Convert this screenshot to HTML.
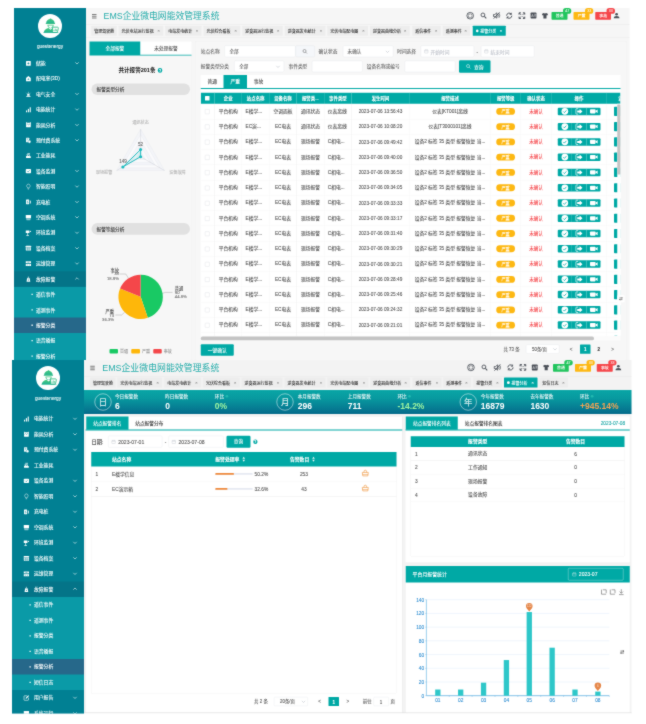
<!DOCTYPE html>
<html lang="zh-CN">
<head>
<meta charset="utf-8">
<title>EMS企业微电网能效管理系统</title>
<style>
html,body{margin:0;padding:0;background:#fff}
body{width:646px;height:724px;overflow:hidden;position:relative;font-family:"Liberation Sans","Noto Sans CJK SC",sans-serif}
#o{position:absolute;left:0;top:0;width:646px;height:724px;overflow:hidden;background:#fff;filter:url(#soft);}
#r{position:absolute;left:0;top:0;width:2584px;height:2896px;transform:scale(.25);transform-origin:0 0;overflow:hidden}
.b{position:absolute;margin:0;padding:0}
.t{position:absolute;white-space:nowrap;margin:0;padding:0;-webkit-text-stroke:.35px;font-family:"Liberation Sans","Noto Sans CJK SC",sans-serif}
.en{font-family:"Liberation Sans",sans-serif}
svg{overflow:visible}
</style>
</head>
<body>
<svg width="0" height="0" style="position:absolute" aria-hidden="true"><defs><filter id="soft" x="0" y="0" width="100%" height="100%" color-interpolation-filters="sRGB"><feConvolveMatrix order="3" kernelMatrix="1 3 1 3 24 3 1 3 1" edgeMode="duplicate" preserveAlpha="true"/></filter></defs></svg>
<div id="o"><div id="r">
<div class="b" style="left:0;top:0;width:2584px;height:1439.6px;overflow:hidden">
<div class="b" style="left:343.6px;top:32px;width:2174.8px;height:1407.6px;background:#f6f6f6;"></div>
<div class="b" style="left:56.4px;top:32px;width:287.2px;height:1407.6px;background:#018093;overflow:hidden;"></div>
<div class="b" style="left:56.4px;top:1146.98px;width:287.2px;height:369.84px;background:#0a9aa7;"></div>
<div class="b" style="left:56.4px;top:1085.34px;width:287.2px;height:61.64px;background:#047488;"></div>
<div class="b" style="left:56.4px;top:1270.26px;width:287.2px;height:61.64px;background:#26688a;"></div>
<div class="b" style="left:152px;top:56px;width:96px;height:96px;background:#fff;border-radius:50%;"></div>
<svg class="b" preserveAspectRatio="none" style="left:165.2px;top:62.8px;width:74.4px;height:76px" viewBox="0 0 24 24"><defs><linearGradient id="ag26" x1="0" y1="0" x2="0" y2="1"><stop offset="0" stop-color="#4ccb7c"/><stop offset="1" stop-color="#22b392"/></linearGradient></defs><g fill="url(#ag26)" stroke="none"><path d="M6.300 9.400a5.500 5.200 0 0 1 11 0z"/><rect x="5.700" y="9.100" width="12.200" height="1.400" rx=".7"/><rect x="11" y="3.4" width="2" height="2.6" rx=".5"/><path d="M8 11.4h8a4 4.4 0 0 1-8 0zm1.1.9a2.9 3.1 0 0 0 5.8 0z" fill-rule="evenodd"/><path d="M3.2 21.2c.5-3.4 3.2-5.2 6.2-5.700l2.600 2.300 2.600-2.300c1.400.3 2.500.8 3.400 1.600v4.100z"/></g><path d="M14.6 14.4h6.300c.9 0 1.300.600 1.100 1.500l-.8 3.700c-.2.900-.9 1.500-1.800 1.500h-4.800z" fill="#fff" stroke="#2fbd82" stroke-width="1.100"/><path d="M16.400 19.400v-1.600M18.100 19.400v-3M19.800 19.400v-2.200" stroke="#2fbd82" stroke-width=".9" fill="none"/><rect x="3" y="20.600" width="19" height="1" fill="#22b392"/></svg>
<div class="t en" style="top:172.46px;font-size:19px;line-height:26.6px;color:#e9f5f6;left:200px;transform:translateX(-50%);">guestenergy</div>
<svg class="b" style="left:100.6px;top:240.6px;width:25.2px;height:25.2px;" viewBox="0 0 24 24"><rect x="3" y="3" width="18" height="18" rx="2" fill="#fff"/><path d="M12 8v8M8 12h8" stroke="#018093" stroke-width="2.6"/></svg>
<div class="t" style="top:239.54px;font-size:19.4px;line-height:27.16px;color:#fff;left:143.6px;">储能</div>
<svg class="b" style="left:300.4px;top:244px;width:16px;height:16px;" viewBox="0 0 24 24"><path d="M2 8l10 10 10-10" fill="none" stroke="#f2fafa" stroke-width="3.600"/></svg>
<svg class="b" style="left:100.6px;top:302.24px;width:25.2px;height:25.2px;" viewBox="0 0 24 24"><path d="M12 2 3 10v12h18V10z" fill="#fff"/><path d="M12 10v7M9 14l3 3 3-3" stroke="#018093" stroke-width="2" fill="none"/></svg>
<div class="t" style="top:299.54px;font-size:19.4px;line-height:27.16px;color:#fff;left:143.6px;">配电室(3D)</div>
<svg class="b" style="left:100.6px;top:363.88px;width:25.2px;height:25.2px;" viewBox="0 0 24 24"><path d="M7 15a5 5 0 0 1 10 0v3H7z" fill="#fff"/><rect x="4" y="19" width="16" height="3" fill="#fff"/><path d="M12 3v4M4 7l3 3M20 7l-3 3" stroke="#fff" stroke-width="2"/></svg>
<div class="t" style="top:363.54px;font-size:19.4px;line-height:27.16px;color:#fff;left:143.6px;">电气安全</div>
<svg class="b" style="left:300.4px;top:367.28px;width:16px;height:16px;" viewBox="0 0 24 24"><path d="M2 8l10 10 10-10" fill="none" stroke="#f2fafa" stroke-width="3.600"/></svg>
<svg class="b" style="left:100.6px;top:425.52px;width:25.2px;height:25.2px;" viewBox="0 0 24 24"><rect x="3" y="15" width="4" height="7" fill="#fff"/><rect x="10" y="9" width="4" height="13" fill="#fff"/><rect x="17" y="3" width="4" height="19" fill="#fff"/></svg>
<div class="t" style="top:423.54px;font-size:19.4px;line-height:27.16px;color:#fff;left:143.6px;">电能统计</div>
<svg class="b" style="left:300.4px;top:428.92px;width:16px;height:16px;" viewBox="0 0 24 24"><path d="M2 8l10 10 10-10" fill="none" stroke="#f2fafa" stroke-width="3.600"/></svg>
<svg class="b" style="left:100.6px;top:487.16px;width:25.2px;height:25.2px;" viewBox="0 0 24 24"><rect x="3" y="4" width="18" height="17" rx="1.5" fill="#fff"/><path d="M5 12l4-3 4 3 5-4" stroke="#018093" stroke-width="2" fill="none"/><rect x="3" y="2" width="3" height="4" fill="#fff"/><rect x="18" y="2" width="3" height="4" fill="#fff"/></svg>
<div class="t" style="top:487.54px;font-size:19.4px;line-height:27.16px;color:#fff;left:143.6px;">能耗分析</div>
<svg class="b" style="left:300.4px;top:490.56px;width:16px;height:16px;" viewBox="0 0 24 24"><path d="M2 8l10 10 10-10" fill="none" stroke="#f2fafa" stroke-width="3.600"/></svg>
<svg class="b" style="left:100.6px;top:548.8px;width:25.2px;height:25.2px;" viewBox="0 0 24 24"><rect x="3" y="2" width="12" height="17" rx="1.5" fill="#fff"/><circle cx="16" cy="17" r="5.5" fill="#fff" stroke="#018093" stroke-width="1.5"/><path d="M6 6h6M6 10h4" stroke="#018093" stroke-width="1.8"/></svg>
<div class="t" style="top:547.54px;font-size:19.4px;line-height:27.16px;color:#fff;left:143.6px;">预付费系统</div>
<svg class="b" style="left:300.4px;top:552.2px;width:16px;height:16px;" viewBox="0 0 24 24"><path d="M2 8l10 10 10-10" fill="none" stroke="#f2fafa" stroke-width="3.600"/></svg>
<svg class="b" style="left:100.6px;top:610.44px;width:25.2px;height:25.2px;" viewBox="0 0 24 24"><path d="M3 21v-7l7-4v4l7-4v4h4v7z" fill="#fff"/><path d="M5 8h12M8 4h10" stroke="#fff" stroke-width="2.4"/></svg>
<div class="t" style="top:607.54px;font-size:19.4px;line-height:27.16px;color:#fff;left:143.6px;">工业能耗</div>
<svg class="b" style="left:100.6px;top:672.08px;width:25.2px;height:25.2px;" viewBox="0 0 24 24"><rect x="2" y="4" width="20" height="16" rx="3" fill="#fff"/><path d="M7 11l4 4 6-6" stroke="#018093" stroke-width="2.2" fill="none"/></svg>
<div class="t" style="top:671.54px;font-size:19.4px;line-height:27.16px;color:#fff;left:143.6px;">设备监测</div>
<svg class="b" style="left:300.4px;top:675.48px;width:16px;height:16px;" viewBox="0 0 24 24"><path d="M2 8l10 10 10-10" fill="none" stroke="#f2fafa" stroke-width="3.600"/></svg>
<svg class="b" style="left:100.6px;top:733.72px;width:25.2px;height:25.2px;" viewBox="0 0 24 24"><path d="M12 2.5a6.5 6.5 0 0 0-3.5 12v3h7v-3a6.5 6.5 0 0 0-3.5-12z" fill="none" stroke="#fff" stroke-width="1.8"/><path d="M9.5 21h5" stroke="#fff" stroke-width="2"/></svg>
<div class="t" style="top:731.54px;font-size:19.4px;line-height:27.16px;color:#fff;left:143.6px;">智能照明</div>
<svg class="b" style="left:300.4px;top:737.12px;width:16px;height:16px;" viewBox="0 0 24 24"><path d="M2 8l10 10 10-10" fill="none" stroke="#f2fafa" stroke-width="3.600"/></svg>
<svg class="b" style="left:100.6px;top:795.36px;width:25.2px;height:25.2px;" viewBox="0 0 24 24"><rect x="3" y="3" width="12" height="18" rx="1.5" fill="#fff"/><path d="M18 6v12h3V9z" fill="#fff"/><path d="M10 7l-3 6h4l-2 5" stroke="#018093" stroke-width="1.8" fill="none"/></svg>
<div class="t" style="top:795.54px;font-size:19.4px;line-height:27.16px;color:#fff;left:143.6px;">充电桩</div>
<svg class="b" style="left:300.4px;top:798.76px;width:16px;height:16px;" viewBox="0 0 24 24"><path d="M2 8l10 10 10-10" fill="none" stroke="#f2fafa" stroke-width="3.600"/></svg>
<svg class="b" style="left:100.6px;top:857px;width:25.2px;height:25.2px;" viewBox="0 0 24 24"><rect x="2" y="3" width="20" height="12" rx="1.5" fill="#fff"/><path d="M3 18h18M5 21h14" stroke="#fff" stroke-width="2"/></svg>
<div class="t" style="top:855.54px;font-size:19.4px;line-height:27.16px;color:#fff;left:143.6px;">空调系统</div>
<svg class="b" style="left:300.4px;top:860.4px;width:16px;height:16px;" viewBox="0 0 24 24"><path d="M2 8l10 10 10-10" fill="none" stroke="#f2fafa" stroke-width="3.600"/></svg>
<svg class="b" style="left:100.6px;top:918.64px;width:25.2px;height:25.2px;" viewBox="0 0 24 24"><rect x="2" y="3" width="14" height="9" rx="1" fill="#fff"/><path d="M9 12v10M4 22h10" stroke="#fff" stroke-width="2.6"/><circle cx="20" cy="6" r="2.5" fill="#fff"/></svg>
<div class="t" style="top:915.54px;font-size:19.4px;line-height:27.16px;color:#fff;left:143.6px;">环境监测</div>
<svg class="b" style="left:300.4px;top:922.04px;width:16px;height:16px;" viewBox="0 0 24 24"><path d="M2 8l10 10 10-10" fill="none" stroke="#f2fafa" stroke-width="3.600"/></svg>
<svg class="b" style="left:100.6px;top:980.28px;width:25.2px;height:25.2px;" viewBox="0 0 24 24"><rect x="2" y="3" width="20" height="18" rx="1.5" fill="#fff"/><path d="M2 9h20M2 15h20M9 9v12M15 9v12" stroke="#018093" stroke-width="1.6"/></svg>
<div class="t" style="top:979.54px;font-size:19.4px;line-height:27.16px;color:#fff;left:143.6px;">设备档案</div>
<svg class="b" style="left:300.4px;top:983.68px;width:16px;height:16px;" viewBox="0 0 24 24"><path d="M2 8l10 10 10-10" fill="none" stroke="#f2fafa" stroke-width="3.600"/></svg>
<svg class="b" style="left:100.6px;top:1041.92px;width:25.2px;height:25.2px;" viewBox="0 0 24 24"><rect x="2" y="3" width="20" height="7" fill="#fff"/><rect x="2" y="13" width="20" height="8" fill="#fff"/><path d="M6 17h4M14 17h4M8 6.5h8" stroke="#018093" stroke-width="1.8"/></svg>
<div class="t" style="top:1039.54px;font-size:19.4px;line-height:27.16px;color:#fff;left:143.6px;">运维管理</div>
<svg class="b" style="left:300.4px;top:1045.32px;width:16px;height:16px;" viewBox="0 0 24 24"><path d="M2 8l10 10 10-10" fill="none" stroke="#f2fafa" stroke-width="3.600"/></svg>
<svg class="b" style="left:100.6px;top:1103.56px;width:25.2px;height:25.2px;" viewBox="0 0 24 24"><path d="M7 9h10l2 13H5z" fill="#fff"/><path d="M9 9a3 3 0 0 1 6 0" stroke="#fff" stroke-width="2" fill="none"/><circle cx="12" cy="15" r="2" fill="#047488"/><path d="M12 2v3" stroke="#fff" stroke-width="2"/></svg>
<div class="t" style="top:1103.54px;font-size:19.4px;line-height:27.16px;color:#fff;left:143.6px;">故障报警</div>
<svg class="b" style="left:300.4px;top:1106.96px;width:16px;height:16px;" viewBox="0 0 24 24"><path d="M2 16l10-10 10 10" fill="none" stroke="#f2fafa" stroke-width="3.600"/></svg>
<div class="b" style="left:125.6px;top:1175.2px;width:5.2px;height:5.2px;background:#fff;"></div>
<div class="t" style="top:1163.54px;font-size:19.4px;line-height:27.16px;color:#fff;left:143.6px;">遥信事件</div>
<div class="b" style="left:125.6px;top:1236.84px;width:5.2px;height:5.2px;background:#fff;"></div>
<div class="t" style="top:1227.54px;font-size:19.4px;line-height:27.16px;color:#fff;left:143.6px;">遥测事件</div>
<div class="b" style="left:125.6px;top:1298.48px;width:5.2px;height:5.2px;background:#fff;"></div>
<div class="t" style="top:1287.54px;font-size:19.4px;line-height:27.16px;color:#fff;left:143.6px;">报警分类</div>
<div class="b" style="left:125.6px;top:1360.12px;width:5.2px;height:5.2px;background:#fff;"></div>
<div class="t" style="top:1347.54px;font-size:19.4px;line-height:27.16px;color:#fff;left:143.6px;">语音播报</div>
<div class="b" style="left:125.6px;top:1421.76px;width:5.2px;height:5.2px;background:#fff;"></div>
<div class="t" style="top:1411.54px;font-size:19.4px;line-height:27.16px;color:#fff;left:143.6px;">报警分析</div>
<div class="b" style="left:125.6px;top:1483.4px;width:5.2px;height:5.2px;background:#fff;"></div>
<div class="t" style="top:1471.54px;font-size:19.4px;line-height:27.16px;color:#fff;left:143.6px;">短信日志</div>
<svg class="b" style="left:365.2px;top:52.8px;width:24px;height:24px;" viewBox="0 0 24 24"><path d="M3 5h18M3 12h18M3 19h18" stroke="#555" stroke-width="3"/></svg>
<div class="t" style="top:38.56px;font-size:35.2px;line-height:49.28px;color:#25acaa;left:414.4px;-webkit-text-stroke:0;">EMS企业微电网能效管理系统</div>
<svg class="b" style="left:1864px;top:45.6px;width:33.6px;height:33.6px;" viewBox="0 0 24 24"><circle cx="12" cy="12" r="9.5" fill="none" stroke="#4a4f57" stroke-width="2.300"/><circle cx="12" cy="12" r="5.5" fill="none" stroke="#4a4f57" stroke-width="1.4"/><path d="M5 5l3.500 3.500M19 5l-3.500 3.500M5 19l3.500-3.500M19 19l-3.500-3.500" stroke="#4a4f57" stroke-width="1.4"/></svg>
<svg class="b" style="left:1920.4px;top:48.4px;width:28px;height:28px;" viewBox="0 0 24 24"><circle cx="10" cy="10" r="6.500" fill="none" stroke="#4a4f57" stroke-width="3"/><path d="M15 15l6.500 6.500" stroke="#4a4f57" stroke-width="3.600"/></svg>
<svg class="b" style="left:1969.6px;top:46.4px;width:32px;height:32px;" viewBox="0 0 24 24"><path d="M3 9h4l6-5v16l-6-5H3z" fill="none" stroke="#4a4f57" stroke-width="2.400" stroke-linejoin="round"/><path d="M16 8c2 2 2 6 0 8M19 5c3.500 4 3.500 10 0 14" stroke="#4a4f57" stroke-width="2.200" fill="none"/><path d="M3.500 21.500 21 2.500" stroke="#4a4f57" stroke-width="2.600"/></svg>
<svg class="b" style="left:2022.4px;top:47.6px;width:29.6px;height:29.6px;" viewBox="0 0 24 24"><path d="M20.500 12a8.500 8.500 0 0 1-15.400 4.900M3.500 12a8.500 8.500 0 0 1 15.400-4.900" fill="none" stroke="#4a4f57" stroke-width="3"/><path d="M19 2.500V8h-5.500M5 21.500V16h5.500" fill="none" stroke="#4a4f57" stroke-width="2.600"/></svg>
<svg class="b" style="left:2073.6px;top:48.8px;width:27.2px;height:27.2px;" viewBox="0 0 24 24"><path d="M2 8.500V2h6.500M15.500 2H22v6.500M22 15.500V22h-6.500M8.500 22H2v-6.500" fill="none" stroke="#4a4f57" stroke-width="3.400"/><path d="M3 3l6.500 6.500M21 3l-6.500 6.500M21 21l-6.500-6.500M3 21l6.500-6.500" stroke="#4a4f57" stroke-width="3"/></svg>
<svg class="b" style="left:2119.6px;top:48.4px;width:28px;height:28px;" viewBox="0 0 24 24"><rect x="2" y="1.500" width="20" height="21" rx="2.500" fill="#4a4f57"/><path d="M5 17l3.500-9 3.500 9M6.500 14h4" stroke="#f6f6f6" stroke-width="1.500" fill="none"/><path d="M14 8h6M17 6v2M15 16c2-1.500 4-4 4.500-8M15 10c1 3 3 5 5 6" stroke="#f6f6f6" stroke-width="1.300" fill="none"/></svg>
<svg class="b" style="left:2165.2px;top:47.6px;width:29.6px;height:29.6px;" viewBox="0 0 24 24"><path d="M8 3l-6 3.500 2.500 5L7 10.500V21h10V10.500l2.500 1 2.500-5L16 3c-1 2-7 2-8 0z" fill="#4a4f57"/></svg>
<div class="b" style="left:2206.4px;top:48px;width:63.6px;height:31.2px;background:#22c55e;border-radius:2.8px;"></div>
<div class="t" style="top:51.48px;font-size:15.6px;line-height:21.84px;color:#fff;left:2238.2px;transform:translateX(-50%);">普通</div>
<div class="b" style="left:2252px;top:32px;width:33.2px;height:22.8px;background:#22c55e;border-radius:11.4px;"></div>
<div class="t en" style="top:32.48px;font-size:14.4px;line-height:20.16px;color:rgba(255,255,255,.78);left:2268.6px;transform:translateX(-50%);">47</div>
<div class="b" style="left:2294.4px;top:48px;width:63.6px;height:31.2px;background:#fdb813;border-radius:2.8px;"></div>
<div class="t" style="top:51.48px;font-size:15.6px;line-height:21.84px;color:#fff;left:2326.2px;transform:translateX(-50%);">严重</div>
<div class="b" style="left:2340px;top:32px;width:33.2px;height:22.8px;background:#fdb813;border-radius:11.4px;"></div>
<div class="t en" style="top:32.48px;font-size:14.4px;line-height:20.16px;color:rgba(255,255,255,.78);left:2356.6px;transform:translateX(-50%);">33</div>
<div class="b" style="left:2380.8px;top:48px;width:63.6px;height:31.2px;background:#f5474b;border-radius:2.8px;"></div>
<div class="t" style="top:51.48px;font-size:15.6px;line-height:21.84px;color:#fff;left:2412.6px;transform:translateX(-50%);">事故</div>
<div class="b" style="left:2426.4px;top:32px;width:33.2px;height:22.8px;background:#f5474b;border-radius:11.4px;"></div>
<div class="t en" style="top:32.48px;font-size:14.4px;line-height:20.16px;color:rgba(255,255,255,.78);left:2443px;transform:translateX(-50%);">33</div>
<svg class="b" style="left:2452px;top:48.4px;width:28.8px;height:28.8px;" viewBox="0 0 24 24"><circle cx="12" cy="7.500" r="4.500" fill="#4a4f57"/><path d="M2.500 21c0-5 4-7.500 9.500-7.500s9.500 2.500 9.500 7.500z" fill="#4a4f57"/></svg>
<div class="b" style="left:343.6px;top:96.4px;width:2174.8px;height:1.6px;background:#e9e9e9;"></div>
<div class="b" style="left:365.2px;top:103.2px;width:102px;height:40px;background:#ededed;border-radius:2.4px;"></div>
<div class="t" style="top:115.52px;font-size:16px;line-height:22.4px;color:#333;left:377.2px;">管理驾驶舱</div>
<div class="b" style="left:473.6px;top:103.2px;width:179.2px;height:40px;background:#ededed;border-radius:2.4px;"></div>
<div class="t" style="top:115.52px;font-size:16px;line-height:22.4px;color:#333;left:485.6px;">光伏电站运行监视</div>
<div class="t en" style="top:111.52px;font-size:16px;line-height:22.4px;color:#888;left:634.4px;transform:translateX(-50%);">×</div>
<div class="b" style="left:660.8px;top:103.2px;width:145.6px;height:40px;background:#ededed;border-radius:2.4px;"></div>
<div class="t" style="top:115.52px;font-size:16px;line-height:22.4px;color:#333;left:672.8px;">电站发电统计</div>
<div class="t en" style="top:111.52px;font-size:16px;line-height:22.4px;color:#888;left:788px;transform:translateX(-50%);">×</div>
<div class="b" style="left:814.4px;top:103.2px;width:146.4px;height:40px;background:#ededed;border-radius:2.4px;"></div>
<div class="t" style="top:115.52px;font-size:16px;line-height:22.4px;color:#333;left:826.4px;">光伏综合看板</div>
<div class="t en" style="top:111.52px;font-size:16px;line-height:22.4px;color:#888;left:942.4px;transform:translateX(-50%);">×</div>
<div class="b" style="left:968.8px;top:103.2px;width:162.4px;height:40px;background:#ededed;border-radius:2.4px;"></div>
<div class="t" style="top:115.52px;font-size:16px;line-height:22.4px;color:#333;left:980.8px;">逆变器运行监视</div>
<div class="t en" style="top:111.52px;font-size:16px;line-height:22.4px;color:#888;left:1112.8px;transform:translateX(-50%);">×</div>
<div class="b" style="left:1139.2px;top:103.2px;width:162.4px;height:40px;background:#ededed;border-radius:2.4px;"></div>
<div class="t" style="top:115.52px;font-size:16px;line-height:22.4px;color:#333;left:1151.2px;">逆变器发电统计</div>
<div class="t en" style="top:111.52px;font-size:16px;line-height:22.4px;color:#888;left:1283.2px;transform:translateX(-50%);">×</div>
<div class="b" style="left:1309.2px;top:103.2px;width:163.2px;height:40px;background:#ededed;border-radius:2.4px;"></div>
<div class="t" style="top:115.52px;font-size:16px;line-height:22.4px;color:#333;left:1321.2px;">光伏电站配电图</div>
<div class="t en" style="top:111.52px;font-size:16px;line-height:22.4px;color:#888;left:1454px;transform:translateX(-50%);">×</div>
<div class="b" style="left:1480.4px;top:103.2px;width:158.4px;height:40px;background:#ededed;border-radius:2.4px;"></div>
<div class="t" style="top:115.52px;font-size:16px;line-height:22.4px;color:#333;left:1492.4px;">逆变器曲线分析</div>
<div class="t en" style="top:111.52px;font-size:16px;line-height:22.4px;color:#888;left:1620.4px;transform:translateX(-50%);">×</div>
<div class="b" style="left:1648.8px;top:103.2px;width:114.4px;height:40px;background:#ededed;border-radius:2.4px;"></div>
<div class="t" style="top:115.52px;font-size:16px;line-height:22.4px;color:#333;left:1660.8px;">遥信事件</div>
<div class="t en" style="top:111.52px;font-size:16px;line-height:22.4px;color:#888;left:1744.8px;transform:translateX(-50%);">×</div>
<div class="b" style="left:1771.2px;top:103.2px;width:110px;height:40px;background:#ededed;border-radius:2.4px;"></div>
<div class="t" style="top:115.52px;font-size:16px;line-height:22.4px;color:#333;left:1783.2px;">遥测事件</div>
<div class="t en" style="top:111.52px;font-size:16px;line-height:22.4px;color:#888;left:1862.8px;transform:translateX(-50%);">×</div>
<div class="b" style="left:1891.2px;top:103.2px;width:132px;height:40px;background:#00a9a5;border-radius:2.4px;"></div>
<div class="b" style="left:1903.6px;top:117.8px;width:10.8px;height:10.8px;background:#fff;border-radius:50%;"></div>
<div class="t" style="top:115.52px;font-size:16px;line-height:22.4px;color:#fff;left:1920.8px;">报警分类</div>
<div class="t en" style="top:111.52px;font-size:16px;line-height:22.4px;color:#fff;left:2003.2px;transform:translateX(-50%);">×</div>
<div class="b" style="left:343.6px;top:149.2px;width:2174.8px;height:1.6px;background:#ebebeb;"></div>
<div class="b" style="left:358.4px;top:166.4px;width:407.2px;height:1280px;background:#f7f7f7;border:1px solid #ececec;box-sizing:border-box;"></div>
<div class="b" style="left:358.4px;top:166.4px;width:407.2px;height:54px;background:#fff;"></div>
<div class="b" style="left:358.4px;top:166.4px;width:202.4px;height:54px;background:#00a9a5;"></div>
<div class="b" style="left:358.4px;top:218.8px;width:407.2px;height:3.6px;background:#00a9a5;"></div>
<div class="t" style="top:180.44px;font-size:18.8px;line-height:26.32px;color:#fff;left:459.6px;transform:translateX(-50%);">全部报警</div>
<div class="t" style="top:180.44px;font-size:18.8px;line-height:26.32px;color:#4a4a4a;left:664px;transform:translateX(-50%);-webkit-text-stroke:.2px;">未处理报警</div>
<div class="t" style="top:264.46px;font-size:22.2px;line-height:31.08px;color:#222;font-weight:700;left:548px;transform:translateX(-50%);-webkit-text-stroke:.1px;">共计报警201条</div>
<div class="b" style="left:630.8px;top:272.4px;width:18.4px;height:18.4px;background:#00a9a5;border-radius:50%;"></div>
<div class="t en" style="top:272.48px;font-size:14.4px;line-height:20.16px;color:#fff;font-weight:700;left:640px;transform:translateX(-50%);">?</div>
<div class="b" style="left:365.6px;top:333.6px;width:394px;height:46.8px;background:#e1e1e1;border-radius:23.6px;"></div>
<div class="t" style="top:344.42px;font-size:18.6px;line-height:26.04px;color:#333;left:386px;">报警类型分析</div>
<div class="b" style="left:365.6px;top:892.4px;width:394px;height:46.8px;background:#e1e1e1;border-radius:23.6px;"></div>
<div class="t" style="top:904.42px;font-size:18.6px;line-height:26.04px;color:#333;left:386px;">报警等级分析</div>
<svg class="b" style="left:0;top:0;width:2584px;height:1440px" viewBox="0 0 646 360"><polygon points="140.60,129.10 116.70,170.50 164.50,170.50" fill="#f3f4f8" stroke="#dfe1e8" stroke-width=".25"/><polygon points="140.60,134.62 121.48,167.74 159.72,167.74" fill="#fafafc" stroke="#dfe1e8" stroke-width=".25"/><polygon points="140.60,140.14 126.26,164.98 154.94,164.98" fill="#f3f4f8" stroke="#dfe1e8" stroke-width=".25"/><polygon points="140.60,145.66 131.04,162.22 150.16,162.22" fill="#fafafc" stroke="#dfe1e8" stroke-width=".25"/><polygon points="140.60,151.18 135.82,159.46 145.38,159.46" fill="#f3f4f8" stroke="#dfe1e8" stroke-width=".25"/><path d="M140.60 156.70L140.60 129.10" stroke="#c6c8d0" stroke-width=".4"/><path d="M140.60 156.70L116.70 170.50" stroke="#c6c8d0" stroke-width=".4"/><path d="M140.60 156.70L164.50 170.50" stroke="#c6c8d0" stroke-width=".4"/><polygon points="140.60,149.56 122.88,166.93 140.60,156.70" fill="rgba(30,190,190,.12)" stroke="#1fbcbf" stroke-width=".95" stroke-linejoin="round"/><circle cx="140.60" cy="149.56" r="1.55" fill="#1fbcbf"/><circle cx="122.88" cy="166.93" r="1.55" fill="#1fbcbf"/><circle cx="140.60" cy="156.70" r="1.55" fill="#1fbcbf"/></svg>
<div class="t" style="top:478.52px;font-size:16.4px;line-height:22.96px;color:#b4b4b4;left:562.4px;transform:translateX(-50%);">通讯状态</div>
<div class="t" style="top:678.52px;font-size:16.4px;line-height:22.96px;color:#b4b4b4;left:416.4px;transform:translateX(-50%);">现场报警</div>
<div class="t" style="top:678.52px;font-size:16.4px;line-height:22.96px;color:#b4b4b4;left:709.6px;transform:translateX(-50%);">设备故障</div>
<div class="t en" style="top:565.48px;font-size:18px;line-height:25.2px;color:#666;left:562.4px;transform:translateX(-50%);">52</div>
<div class="t en" style="top:633.48px;font-size:18px;line-height:25.2px;color:#666;left:491.6px;transform:translateX(-50%);">149</div>
<svg class="b" style="left:0;top:0;width:2584px;height:1440px" viewBox="0 0 646 360"><path d="M140.65 296.85L140.65 274.65A22.20 22.20 0 0 1 147.81 317.86Z" fill="#19c964"/><path d="M140.65 296.85L147.81 317.86A22.20 22.20 0 0 1 120.06 288.56Z" fill="#feb70a"/><path d="M140.65 296.85L120.06 288.56A22.20 22.20 0 0 1 140.65 274.65Z" fill="#f4474a"/><path d="M162.4 293.3L165.5 292.4H172.5" fill="none" stroke="#888" stroke-width=".35"/><path d="M124.6 312.3L121.6 315.0H115.4" fill="none" stroke="#888" stroke-width=".35"/><path d="M128.3 278.0L125.8 274.0H119.6" fill="none" stroke="#888" stroke-width=".35"/></svg>
<div class="t" style="top:1142.48px;font-size:16.8px;line-height:23.52px;color:#4a4a4a;left:699.2px;">普通</div>
<div class="t en" style="top:1158.48px;font-size:16.8px;line-height:23.52px;color:#707070;left:699.2px;">90</div>
<div class="t en" style="top:1174.48px;font-size:16.8px;line-height:23.52px;color:#707070;left:699.2px;">44.8%</div>
<div class="t" style="top:1234.48px;font-size:16.8px;line-height:23.52px;color:#4a4a4a;left:456px;transform:translateX(-100%);">严重</div>
<div class="t en" style="top:1250.48px;font-size:16.8px;line-height:23.52px;color:#707070;left:456px;transform:translateX(-100%);">73</div>
<div class="t en" style="top:1266.48px;font-size:16.8px;line-height:23.52px;color:#707070;left:456px;transform:translateX(-100%);">36.3%</div>
<div class="t" style="top:1070.48px;font-size:16.8px;line-height:23.52px;color:#4a4a4a;left:475.6px;transform:translateX(-100%);">事故</div>
<div class="t en" style="top:1082.48px;font-size:16.8px;line-height:23.52px;color:#707070;left:475.6px;transform:translateX(-100%);">38</div>
<div class="t en" style="top:1102.48px;font-size:16.8px;line-height:23.52px;color:#707070;left:475.6px;transform:translateX(-100%);">18.9%</div>
<div class="b" style="left:437.6px;top:1395.6px;width:34.4px;height:18.4px;background:#19c964;border-radius:4px;"></div>
<div class="t" style="top:1395.52px;font-size:16px;line-height:22.4px;color:#999;left:480px;">普通</div>
<div class="b" style="left:525.2px;top:1395.6px;width:34.4px;height:18.4px;background:#feb70a;border-radius:4px;"></div>
<div class="t" style="top:1395.52px;font-size:16px;line-height:22.4px;color:#999;left:567.6px;">严重</div>
<div class="b" style="left:612.8px;top:1395.6px;width:34.4px;height:18.4px;background:#f4474a;border-radius:4px;"></div>
<div class="t" style="top:1395.52px;font-size:16px;line-height:22.4px;color:#999;left:655.2px;">事故</div>
<div class="b" style="left:782.4px;top:166.4px;width:1724px;height:1280px;background:#f7f7f7;border:1px solid #ececec;box-sizing:border-box;"></div>
<div class="t" style="top:192.44px;font-size:18.8px;line-height:26.32px;color:#666;left:803.2px;">站点名称</div>
<div class="b" style="left:897.6px;top:182.4px;width:284.8px;height:45.6px;background:#fff;border:1.4px solid #dadde4;box-sizing:border-box;border-radius:4.8px;"></div>
<div class="t" style="top:193.5px;font-size:18.2px;line-height:25.48px;color:#666;left:917.6px;">全部</div>
<div class="b" style="left:1182px;top:182.4px;width:76.8px;height:45.6px;background:#f5f7fa;border:1.4px solid #dadde4;box-sizing:border-box;border-radius:4.8px;"></div>
<svg class="b" style="left:1209.2px;top:195.2px;width:20.8px;height:20.8px;" viewBox="0 0 24 24"><circle cx="10.5" cy="10.5" r="7" fill="none" stroke="#555" stroke-width="2.2"/><path d="M16 16l5.500 5.500" stroke="#555" stroke-width="2.600"/></svg>
<div class="t" style="top:192.44px;font-size:18.8px;line-height:26.32px;color:#666;left:1274.4px;">确认状态</div>
<div class="b" style="left:1372px;top:182.4px;width:200.8px;height:45.6px;background:#fff;border:1.4px solid #dadde4;box-sizing:border-box;border-radius:4.8px;"></div>
<div class="t" style="top:193.5px;font-size:18.2px;line-height:25.48px;color:#666;left:1390.4px;">未确认</div>
<svg class="b" style="left:1541.6px;top:198px;width:16px;height:16px;" viewBox="0 0 24 24"><path d="M2 8l10 10 10-10" fill="none" stroke="#c0c4cc" stroke-width="3.600"/></svg>
<div class="t" style="top:192.44px;font-size:18.8px;line-height:26.32px;color:#666;left:1588.8px;">时间选择</div>
<div class="b" style="left:1682.8px;top:182.4px;width:213.6px;height:45.6px;background:#fff;border:1.4px solid #dadde4;box-sizing:border-box;border-radius:4.8px;"></div>
<svg class="b" style="left:1695.6px;top:196.4px;width:18.4px;height:18.4px;" viewBox="0 0 24 24"><rect x="3" y="5" width="18" height="16" rx="1.500" fill="none" stroke="#c0c4cc" stroke-width="2"/><path d="M3 10h18M8 2v5M16 2v5" stroke="#c0c4cc" stroke-width="2"/></svg>
<div class="t" style="top:196.46px;font-size:19px;line-height:26.6px;color:#c0c4cc;left:1721.6px;">开始时间</div>
<div class="t en" style="top:196.44px;font-size:18.8px;line-height:26.32px;color:#555;left:1909.2px;transform:translateX(-50%);">-</div>
<div class="b" style="left:1923.6px;top:182.4px;width:213.2px;height:45.6px;background:#fff;border:1.4px solid #dadde4;box-sizing:border-box;border-radius:4.8px;"></div>
<svg class="b" style="left:1936.4px;top:196.4px;width:18.4px;height:18.4px;" viewBox="0 0 24 24"><rect x="3" y="5" width="18" height="16" rx="1.500" fill="none" stroke="#c0c4cc" stroke-width="2"/><path d="M3 10h18M8 2v5M16 2v5" stroke="#c0c4cc" stroke-width="2"/></svg>
<div class="t" style="top:196.46px;font-size:19px;line-height:26.6px;color:#c0c4cc;left:1962.4px;">结束时间</div>
<div class="t" style="top:252.44px;font-size:18.8px;line-height:26.32px;color:#666;left:803.2px;">报警类型分类</div>
<div class="b" style="left:936.8px;top:242.8px;width:198.8px;height:45.6px;background:#fff;border:1.4px solid #dadde4;box-sizing:border-box;border-radius:4.8px;"></div>
<div class="t" style="top:253.5px;font-size:18.2px;line-height:25.48px;color:#666;left:956.8px;">全部</div>
<svg class="b" style="left:1103.6px;top:258.4px;width:16px;height:16px;" viewBox="0 0 24 24"><path d="M2 8l10 10 10-10" fill="none" stroke="#c0c4cc" stroke-width="3.600"/></svg>
<div class="t" style="top:252.44px;font-size:18.8px;line-height:26.32px;color:#666;left:1154px;">事件类型</div>
<div class="b" style="left:1248.4px;top:242.8px;width:202px;height:45.6px;background:#fff;border:1.4px solid #dadde4;box-sizing:border-box;border-radius:4.8px;"></div>
<div class="t" style="top:252.44px;font-size:18.8px;line-height:26.32px;color:#666;left:1467.2px;">设备名称或编号</div>
<div class="b" style="left:1618.8px;top:242.8px;width:202.4px;height:45.6px;background:#fff;border:1.4px solid #dadde4;box-sizing:border-box;border-radius:4.8px;"></div>
<div class="b" style="left:1836px;top:240.8px;width:125.6px;height:50px;background:#00a9a5;border-radius:4.8px;"></div>
<svg class="b" style="left:1862.8px;top:255.2px;width:20.8px;height:20.8px;" viewBox="0 0 24 24"><circle cx="10.5" cy="10.5" r="7" fill="none" stroke="#fff" stroke-width="2.2"/><path d="M16 16l5.500 5.500" stroke="#fff" stroke-width="2.600"/></svg>
<div class="t" style="top:256.44px;font-size:18.8px;line-height:26.32px;color:#fff;left:1915.2px;transform:translateX(-50%);">查询</div>
<div class="b" style="left:803.2px;top:300px;width:1679.2px;height:1044px;background:#fff;"></div>
<div class="b" style="left:894.4px;top:300px;width:93.6px;height:53.6px;background:#00a9a5;"></div>
<div class="b" style="left:803.2px;top:352px;width:1679.2px;height:3.6px;background:#00a9a5;"></div>
<div class="t" style="top:312.44px;font-size:18.8px;line-height:26.32px;color:#444;left:848.8px;transform:translateX(-50%);">普通</div>
<div class="t" style="top:312.44px;font-size:18.8px;line-height:26.32px;color:#fff;left:941.2px;transform:translateX(-50%);">严重</div>
<div class="t" style="top:312.44px;font-size:18.8px;line-height:26.32px;color:#444;left:1034px;transform:translateX(-50%);">事故</div>
<div class="b" style="left:803.2px;top:370.4px;width:1679.2px;height:973.6px;overflow:hidden;background:#fff">
<div class="b" style="left:-803.2px;top:-370.4px;width:10px;height:10px">
<div class="b" style="left:803.2px;top:370.4px;width:1679.2px;height:44.8px;background:#00a9a5;"></div>
<div class="b" style="left:857.4px;top:370.4px;width:1.2px;height:44.8px;background:#6fd0cd;"></div>
<div class="b" style="left:857.4px;top:415.2px;width:1.2px;height:960px;background:#efefef;"></div>
<div class="t" style="top:381.44px;font-size:17.6px;line-height:24.64px;color:#fff;font-weight:700;left:912.8px;transform:translateX(-50%);">企业</div>
<div class="b" style="left:967px;top:370.4px;width:1.2px;height:44.8px;background:#6fd0cd;"></div>
<div class="b" style="left:967px;top:415.2px;width:1.2px;height:960px;background:#efefef;"></div>
<div class="t" style="top:381.44px;font-size:17.6px;line-height:24.64px;color:#fff;font-weight:700;left:1022.6px;transform:translateX(-50%);">站点名称</div>
<div class="b" style="left:1077px;top:370.4px;width:1.2px;height:44.8px;background:#6fd0cd;"></div>
<div class="b" style="left:1077px;top:415.2px;width:1.2px;height:960px;background:#efefef;"></div>
<div class="t" style="top:381.44px;font-size:17.6px;line-height:24.64px;color:#fff;font-weight:700;left:1131.8px;transform:translateX(-50%);">设备名称</div>
<div class="b" style="left:1185.4px;top:370.4px;width:1.2px;height:44.8px;background:#6fd0cd;"></div>
<div class="b" style="left:1185.4px;top:415.2px;width:1.2px;height:960px;background:#efefef;"></div>
<div class="t" style="top:381.44px;font-size:17.6px;line-height:24.64px;color:#fff;font-weight:700;left:1241.6px;transform:translateX(-50%);">报警类...</div>
<div class="b" style="left:1296.6px;top:370.4px;width:1.2px;height:44.8px;background:#6fd0cd;"></div>
<div class="b" style="left:1296.6px;top:415.2px;width:1.2px;height:960px;background:#efefef;"></div>
<div class="t" style="top:381.44px;font-size:17.6px;line-height:24.64px;color:#fff;font-weight:700;left:1351.6px;transform:translateX(-50%);">事件类型</div>
<div class="b" style="left:1405.4px;top:370.4px;width:1.2px;height:44.8px;background:#6fd0cd;"></div>
<div class="b" style="left:1405.4px;top:415.2px;width:1.2px;height:960px;background:#efefef;"></div>
<div class="t" style="top:381.44px;font-size:17.6px;line-height:24.64px;color:#fff;font-weight:700;left:1521.8px;transform:translateX(-50%);">发生时间</div>
<div class="b" style="left:1637px;top:370.4px;width:1.2px;height:44.8px;background:#6fd0cd;"></div>
<div class="b" style="left:1637px;top:415.2px;width:1.2px;height:960px;background:#efefef;"></div>
<div class="t" style="top:381.44px;font-size:17.6px;line-height:24.64px;color:#fff;font-weight:700;left:1800px;transform:translateX(-50%);">报警描述</div>
<div class="b" style="left:1961.8px;top:370.4px;width:1.2px;height:44.8px;background:#6fd0cd;"></div>
<div class="b" style="left:1961.8px;top:415.2px;width:1.2px;height:960px;background:#efefef;"></div>
<div class="t" style="top:381.44px;font-size:17.6px;line-height:24.64px;color:#fff;font-weight:700;left:2022.8px;transform:translateX(-50%);">报警等级</div>
<div class="b" style="left:2082.6px;top:370.4px;width:1.2px;height:44.8px;background:#6fd0cd;"></div>
<div class="b" style="left:2082.6px;top:415.2px;width:1.2px;height:960px;background:#efefef;"></div>
<div class="t" style="top:381.44px;font-size:17.6px;line-height:24.64px;color:#fff;font-weight:700;left:2144px;transform:translateX(-50%);">确认状态</div>
<div class="b" style="left:2204.2px;top:370.4px;width:1.2px;height:44.8px;background:#6fd0cd;"></div>
<div class="b" style="left:2204.2px;top:415.2px;width:1.2px;height:960px;background:#efefef;"></div>
<div class="t" style="top:381.44px;font-size:17.6px;line-height:24.64px;color:#fff;font-weight:700;left:2315.6px;transform:translateX(-50%);">操作</div>
<div class="b" style="left:2425.8px;top:370.4px;width:1.2px;height:44.8px;background:#6fd0cd;"></div>
<div class="b" style="left:2425.8px;top:415.2px;width:1.2px;height:960px;background:#efefef;"></div>
<div class="t" style="top:380.56px;font-size:19.2px;line-height:26.88px;color:#fff;font-weight:700;left:2473.2px;">设备</div>
<div class="b" style="left:820px;top:383.6px;width:18.4px;height:18.4px;background:#fff;border-radius:2.4px;"></div>
<div class="b" style="left:803.2px;top:475.64px;width:1679.2px;height:1.2px;background:#ececec;"></div>
<div class="b" style="left:820px;top:437.32px;width:18.4px;height:18.4px;background:#fff;border:1.8px solid #c6cad2;box-sizing:border-box;border-radius:2px;"></div>
<div class="t" style="top:432.46px;font-size:19px;line-height:26.6px;color:#555;left:912.8px;transform:translateX(-50%);">平台机构</div>
<div class="t" style="top:432.46px;font-size:19px;line-height:26.6px;color:#555;left:982px;">E楼学...</div>
<div class="t" style="top:432.46px;font-size:19px;line-height:26.6px;color:#555;left:1131.8px;transform:translateX(-50%);">空调面板</div>
<div class="t" style="top:432.46px;font-size:19px;line-height:26.6px;color:#555;left:1241.6px;transform:translateX(-50%);">通讯状态</div>
<div class="t" style="top:432.46px;font-size:19px;line-height:26.6px;color:#555;left:1310.8px;">仪表离线</div>
<div class="t en" style="top:432.44px;font-size:18.8px;line-height:26.32px;color:#555;left:1521.8px;transform:translateX(-50%);">2023-07-06 13:56:43</div>
<div class="t" style="top:432.46px;font-size:19px;line-height:26.6px;color:#555;left:1800px;transform:translateX(-50%);">仪表[KT001]离线</div>
<div class="b" style="left:1984.8px;top:432.12px;width:75.2px;height:27.2px;background:#fdb813;border-radius:13.6px;"></div>
<div class="t" style="top:434.52px;font-size:16.4px;line-height:22.96px;color:#fff;left:2022.4px;transform:translateX(-50%);">严重</div>
<div class="t" style="top:433.5px;font-size:18.2px;line-height:25.48px;color:#f5474b;left:2144px;transform:translateX(-50%);">未确认</div>
<div class="b" style="left:2231.2px;top:430.92px;width:170.4px;height:29.6px;background:#00a9a5;border-radius:4px;"></div>
<div class="b" style="left:2286.8px;top:430.92px;width:1.2px;height:29.6px;background:#7fd4d2;"></div>
<div class="b" style="left:2344.4px;top:430.92px;width:1.2px;height:29.6px;background:#7fd4d2;"></div>
<svg class="b" style="left:2246.4px;top:432.32px;width:26.8px;height:26.8px;" viewBox="0 0 24 24"><circle cx="12" cy="12" r="12" fill="#fff"/><path d="M6.500 12.500l4 4 7-8" fill="none" stroke="#00a9a5" stroke-width="2.800"/></svg>
<svg class="b" style="left:2300.8px;top:432.12px;width:30.4px;height:27.2px;" viewBox="0 0 25 24"><path d="M9.500 2.500H3.500a2 2 0 0 0-2 2v15a2 2 0 0 0 2 2h6" fill="none" stroke="#fff" stroke-width="2.400"/><path d="M6 8.500h8.500V3l10 9-10 9v-5.500H6z" fill="#fff"/></svg>
<svg class="b" style="left:2359.6px;top:435.32px;width:30.4px;height:20.8px;" viewBox="0 0 30 18"><rect x="0" y="1" width="22" height="16" rx="3" fill="#fff"/><path d="M22 7l8-5v14l-8-5z" fill="#fff"/></svg>
<div class="b" style="left:2456.4px;top:427.32px;width:24.8px;height:36.8px;background:#00a9a5;border-radius:3.2px 0 0 3.2px;"></div>
<div class="b" style="left:803.2px;top:536.68px;width:1679.2px;height:1.2px;background:#ececec;"></div>
<div class="b" style="left:820px;top:498.36px;width:18.4px;height:18.4px;background:#fff;border:1.8px solid #c6cad2;box-sizing:border-box;border-radius:2px;"></div>
<div class="t" style="top:492.46px;font-size:19px;line-height:26.6px;color:#555;left:912.8px;transform:translateX(-50%);">平台机构</div>
<div class="t" style="top:492.46px;font-size:19px;line-height:26.6px;color:#555;left:982px;">EC演...</div>
<div class="t" style="top:492.46px;font-size:19px;line-height:26.6px;color:#555;left:1131.8px;transform:translateX(-50%);">EC电表</div>
<div class="t" style="top:492.46px;font-size:19px;line-height:26.6px;color:#555;left:1241.6px;transform:translateX(-50%);">通讯状态</div>
<div class="t" style="top:492.46px;font-size:19px;line-height:26.6px;color:#555;left:1310.8px;">仪表离线</div>
<div class="t en" style="top:492.44px;font-size:18.8px;line-height:26.32px;color:#555;left:1521.8px;transform:translateX(-50%);">2023-07-06 10:08:20</div>
<div class="t" style="top:492.46px;font-size:19px;line-height:26.6px;color:#555;left:1800px;transform:translateX(-50%);">仪表[T3000101]离线</div>
<div class="b" style="left:1984.8px;top:493.16px;width:75.2px;height:27.2px;background:#fdb813;border-radius:13.6px;"></div>
<div class="t" style="top:498.52px;font-size:16.4px;line-height:22.96px;color:#fff;left:2022.4px;transform:translateX(-50%);">严重</div>
<div class="t" style="top:493.5px;font-size:18.2px;line-height:25.48px;color:#f5474b;left:2144px;transform:translateX(-50%);">未确认</div>
<div class="b" style="left:2231.2px;top:491.96px;width:170.4px;height:29.6px;background:#00a9a5;border-radius:4px;"></div>
<div class="b" style="left:2286.8px;top:491.96px;width:1.2px;height:29.6px;background:#7fd4d2;"></div>
<div class="b" style="left:2344.4px;top:491.96px;width:1.2px;height:29.6px;background:#7fd4d2;"></div>
<svg class="b" style="left:2246.4px;top:493.36px;width:26.8px;height:26.8px;" viewBox="0 0 24 24"><circle cx="12" cy="12" r="12" fill="#fff"/><path d="M6.500 12.500l4 4 7-8" fill="none" stroke="#00a9a5" stroke-width="2.800"/></svg>
<svg class="b" style="left:2300.8px;top:493.16px;width:30.4px;height:27.2px;" viewBox="0 0 25 24"><path d="M9.500 2.500H3.500a2 2 0 0 0-2 2v15a2 2 0 0 0 2 2h6" fill="none" stroke="#fff" stroke-width="2.400"/><path d="M6 8.500h8.500V3l10 9-10 9v-5.500H6z" fill="#fff"/></svg>
<svg class="b" style="left:2359.6px;top:496.36px;width:30.4px;height:20.8px;" viewBox="0 0 30 18"><rect x="0" y="1" width="22" height="16" rx="3" fill="#fff"/><path d="M22 7l8-5v14l-8-5z" fill="#fff"/></svg>
<div class="b" style="left:2456.4px;top:488.36px;width:24.8px;height:36.8px;background:#00a9a5;border-radius:3.2px 0 0 3.2px;"></div>
<div class="b" style="left:803.2px;top:597.72px;width:1679.2px;height:1.2px;background:#ececec;"></div>
<div class="b" style="left:820px;top:559.4px;width:18.4px;height:18.4px;background:#fff;border:1.8px solid #c6cad2;box-sizing:border-box;border-radius:2px;"></div>
<div class="t" style="top:552.46px;font-size:19px;line-height:26.6px;color:#555;left:912.8px;transform:translateX(-50%);">平台机构</div>
<div class="t" style="top:552.46px;font-size:19px;line-height:26.6px;color:#555;left:982px;">E楼学...</div>
<div class="t" style="top:552.46px;font-size:19px;line-height:26.6px;color:#555;left:1131.8px;transform:translateX(-50%);">EC电表</div>
<div class="t" style="top:552.46px;font-size:19px;line-height:26.6px;color:#555;left:1241.6px;transform:translateX(-50%);">现场报警</div>
<div class="t" style="top:552.46px;font-size:19px;line-height:26.6px;color:#555;left:1310.8px;">C相电...</div>
<div class="t en" style="top:556.44px;font-size:18.8px;line-height:26.32px;color:#555;left:1521.8px;transform:translateX(-50%);">2023-07-06 09:49:42</div>
<div class="t" style="top:552.46px;font-size:19px;line-height:26.6px;color:#555;left:1800px;transform:translateX(-50%);">设备2 标签 35 类型 报警恢复 当...</div>
<div class="b" style="left:1984.8px;top:554.2px;width:75.2px;height:27.2px;background:#fdb813;border-radius:13.6px;"></div>
<div class="t" style="top:558.52px;font-size:16.4px;line-height:22.96px;color:#fff;left:2022.4px;transform:translateX(-50%);">严重</div>
<div class="t" style="top:553.5px;font-size:18.2px;line-height:25.48px;color:#f5474b;left:2144px;transform:translateX(-50%);">未确认</div>
<div class="b" style="left:2231.2px;top:553px;width:170.4px;height:29.6px;background:#00a9a5;border-radius:4px;"></div>
<div class="b" style="left:2286.8px;top:553px;width:1.2px;height:29.6px;background:#7fd4d2;"></div>
<div class="b" style="left:2344.4px;top:553px;width:1.2px;height:29.6px;background:#7fd4d2;"></div>
<svg class="b" style="left:2246.4px;top:554.4px;width:26.8px;height:26.8px;" viewBox="0 0 24 24"><circle cx="12" cy="12" r="12" fill="#fff"/><path d="M6.500 12.500l4 4 7-8" fill="none" stroke="#00a9a5" stroke-width="2.800"/></svg>
<svg class="b" style="left:2300.8px;top:554.2px;width:30.4px;height:27.2px;" viewBox="0 0 25 24"><path d="M9.500 2.500H3.500a2 2 0 0 0-2 2v15a2 2 0 0 0 2 2h6" fill="none" stroke="#fff" stroke-width="2.400"/><path d="M6 8.500h8.500V3l10 9-10 9v-5.500H6z" fill="#fff"/></svg>
<svg class="b" style="left:2359.6px;top:557.4px;width:30.4px;height:20.8px;" viewBox="0 0 30 18"><rect x="0" y="1" width="22" height="16" rx="3" fill="#fff"/><path d="M22 7l8-5v14l-8-5z" fill="#fff"/></svg>
<div class="b" style="left:2456.4px;top:549.4px;width:24.8px;height:36.8px;background:#00a9a5;border-radius:3.2px 0 0 3.2px;"></div>
<div class="b" style="left:803.2px;top:658.76px;width:1679.2px;height:1.2px;background:#ececec;"></div>
<div class="b" style="left:820px;top:620.44px;width:18.4px;height:18.4px;background:#fff;border:1.8px solid #c6cad2;box-sizing:border-box;border-radius:2px;"></div>
<div class="t" style="top:616.46px;font-size:19px;line-height:26.6px;color:#555;left:912.8px;transform:translateX(-50%);">平台机构</div>
<div class="t" style="top:616.46px;font-size:19px;line-height:26.6px;color:#555;left:982px;">E楼学...</div>
<div class="t" style="top:616.46px;font-size:19px;line-height:26.6px;color:#555;left:1131.8px;transform:translateX(-50%);">EC电表</div>
<div class="t" style="top:616.46px;font-size:19px;line-height:26.6px;color:#555;left:1241.6px;transform:translateX(-50%);">现场报警</div>
<div class="t" style="top:616.46px;font-size:19px;line-height:26.6px;color:#555;left:1310.8px;">C相电...</div>
<div class="t en" style="top:616.44px;font-size:18.8px;line-height:26.32px;color:#555;left:1521.8px;transform:translateX(-50%);">2023-07-06 09:40:00</div>
<div class="t" style="top:616.46px;font-size:19px;line-height:26.6px;color:#555;left:1800px;transform:translateX(-50%);">设备2 标签 35 类型 报警恢复 当...</div>
<div class="b" style="left:1984.8px;top:615.24px;width:75.2px;height:27.2px;background:#fdb813;border-radius:13.6px;"></div>
<div class="t" style="top:618.52px;font-size:16.4px;line-height:22.96px;color:#fff;left:2022.4px;transform:translateX(-50%);">严重</div>
<div class="t" style="top:613.5px;font-size:18.2px;line-height:25.48px;color:#f5474b;left:2144px;transform:translateX(-50%);">未确认</div>
<div class="b" style="left:2231.2px;top:614.04px;width:170.4px;height:29.6px;background:#00a9a5;border-radius:4px;"></div>
<div class="b" style="left:2286.8px;top:614.04px;width:1.2px;height:29.6px;background:#7fd4d2;"></div>
<div class="b" style="left:2344.4px;top:614.04px;width:1.2px;height:29.6px;background:#7fd4d2;"></div>
<svg class="b" style="left:2246.4px;top:615.44px;width:26.8px;height:26.8px;" viewBox="0 0 24 24"><circle cx="12" cy="12" r="12" fill="#fff"/><path d="M6.500 12.500l4 4 7-8" fill="none" stroke="#00a9a5" stroke-width="2.800"/></svg>
<svg class="b" style="left:2300.8px;top:615.24px;width:30.4px;height:27.2px;" viewBox="0 0 25 24"><path d="M9.500 2.500H3.500a2 2 0 0 0-2 2v15a2 2 0 0 0 2 2h6" fill="none" stroke="#fff" stroke-width="2.400"/><path d="M6 8.500h8.500V3l10 9-10 9v-5.500H6z" fill="#fff"/></svg>
<svg class="b" style="left:2359.6px;top:618.44px;width:30.4px;height:20.8px;" viewBox="0 0 30 18"><rect x="0" y="1" width="22" height="16" rx="3" fill="#fff"/><path d="M22 7l8-5v14l-8-5z" fill="#fff"/></svg>
<div class="b" style="left:2456.4px;top:610.44px;width:24.8px;height:36.8px;background:#00a9a5;border-radius:3.2px 0 0 3.2px;"></div>
<div class="b" style="left:803.2px;top:719.8px;width:1679.2px;height:1.2px;background:#ececec;"></div>
<div class="b" style="left:820px;top:681.48px;width:18.4px;height:18.4px;background:#fff;border:1.8px solid #c6cad2;box-sizing:border-box;border-radius:2px;"></div>
<div class="t" style="top:676.46px;font-size:19px;line-height:26.6px;color:#555;left:912.8px;transform:translateX(-50%);">平台机构</div>
<div class="t" style="top:676.46px;font-size:19px;line-height:26.6px;color:#555;left:982px;">E楼学...</div>
<div class="t" style="top:676.46px;font-size:19px;line-height:26.6px;color:#555;left:1131.8px;transform:translateX(-50%);">EC电表</div>
<div class="t" style="top:676.46px;font-size:19px;line-height:26.6px;color:#555;left:1241.6px;transform:translateX(-50%);">现场报警</div>
<div class="t" style="top:676.46px;font-size:19px;line-height:26.6px;color:#555;left:1310.8px;">C相电...</div>
<div class="t en" style="top:676.44px;font-size:18.8px;line-height:26.32px;color:#555;left:1521.8px;transform:translateX(-50%);">2023-07-06 09:36:50</div>
<div class="t" style="top:676.46px;font-size:19px;line-height:26.6px;color:#555;left:1800px;transform:translateX(-50%);">设备2 标签 35 类型 报警恢复 当...</div>
<div class="b" style="left:1984.8px;top:676.28px;width:75.2px;height:27.2px;background:#fdb813;border-radius:13.6px;"></div>
<div class="t" style="top:682.52px;font-size:16.4px;line-height:22.96px;color:#fff;left:2022.4px;transform:translateX(-50%);">严重</div>
<div class="t" style="top:677.5px;font-size:18.2px;line-height:25.48px;color:#f5474b;left:2144px;transform:translateX(-50%);">未确认</div>
<div class="b" style="left:2231.2px;top:675.08px;width:170.4px;height:29.6px;background:#00a9a5;border-radius:4px;"></div>
<div class="b" style="left:2286.8px;top:675.08px;width:1.2px;height:29.6px;background:#7fd4d2;"></div>
<div class="b" style="left:2344.4px;top:675.08px;width:1.2px;height:29.6px;background:#7fd4d2;"></div>
<svg class="b" style="left:2246.4px;top:676.48px;width:26.8px;height:26.8px;" viewBox="0 0 24 24"><circle cx="12" cy="12" r="12" fill="#fff"/><path d="M6.500 12.500l4 4 7-8" fill="none" stroke="#00a9a5" stroke-width="2.800"/></svg>
<svg class="b" style="left:2300.8px;top:676.28px;width:30.4px;height:27.2px;" viewBox="0 0 25 24"><path d="M9.500 2.500H3.500a2 2 0 0 0-2 2v15a2 2 0 0 0 2 2h6" fill="none" stroke="#fff" stroke-width="2.400"/><path d="M6 8.500h8.500V3l10 9-10 9v-5.500H6z" fill="#fff"/></svg>
<svg class="b" style="left:2359.6px;top:679.48px;width:30.4px;height:20.8px;" viewBox="0 0 30 18"><rect x="0" y="1" width="22" height="16" rx="3" fill="#fff"/><path d="M22 7l8-5v14l-8-5z" fill="#fff"/></svg>
<div class="b" style="left:2456.4px;top:671.48px;width:24.8px;height:36.8px;background:#00a9a5;border-radius:3.2px 0 0 3.2px;"></div>
<div class="b" style="left:803.2px;top:780.84px;width:1679.2px;height:1.2px;background:#ececec;"></div>
<div class="b" style="left:820px;top:742.52px;width:18.4px;height:18.4px;background:#fff;border:1.8px solid #c6cad2;box-sizing:border-box;border-radius:2px;"></div>
<div class="t" style="top:736.46px;font-size:19px;line-height:26.6px;color:#555;left:912.8px;transform:translateX(-50%);">平台机构</div>
<div class="t" style="top:736.46px;font-size:19px;line-height:26.6px;color:#555;left:982px;">E楼学...</div>
<div class="t" style="top:736.46px;font-size:19px;line-height:26.6px;color:#555;left:1131.8px;transform:translateX(-50%);">EC电表</div>
<div class="t" style="top:736.46px;font-size:19px;line-height:26.6px;color:#555;left:1241.6px;transform:translateX(-50%);">现场报警</div>
<div class="t" style="top:736.46px;font-size:19px;line-height:26.6px;color:#555;left:1310.8px;">C相电...</div>
<div class="t en" style="top:736.44px;font-size:18.8px;line-height:26.32px;color:#555;left:1521.8px;transform:translateX(-50%);">2023-07-06 09:34:05</div>
<div class="t" style="top:736.46px;font-size:19px;line-height:26.6px;color:#555;left:1800px;transform:translateX(-50%);">设备2 标签 35 类型 报警恢复 当...</div>
<div class="b" style="left:1984.8px;top:737.32px;width:75.2px;height:27.2px;background:#fdb813;border-radius:13.6px;"></div>
<div class="t" style="top:742.52px;font-size:16.4px;line-height:22.96px;color:#fff;left:2022.4px;transform:translateX(-50%);">严重</div>
<div class="t" style="top:737.5px;font-size:18.2px;line-height:25.48px;color:#f5474b;left:2144px;transform:translateX(-50%);">未确认</div>
<div class="b" style="left:2231.2px;top:736.12px;width:170.4px;height:29.6px;background:#00a9a5;border-radius:4px;"></div>
<div class="b" style="left:2286.8px;top:736.12px;width:1.2px;height:29.6px;background:#7fd4d2;"></div>
<div class="b" style="left:2344.4px;top:736.12px;width:1.2px;height:29.6px;background:#7fd4d2;"></div>
<svg class="b" style="left:2246.4px;top:737.52px;width:26.8px;height:26.8px;" viewBox="0 0 24 24"><circle cx="12" cy="12" r="12" fill="#fff"/><path d="M6.500 12.500l4 4 7-8" fill="none" stroke="#00a9a5" stroke-width="2.800"/></svg>
<svg class="b" style="left:2300.8px;top:737.32px;width:30.4px;height:27.2px;" viewBox="0 0 25 24"><path d="M9.500 2.500H3.500a2 2 0 0 0-2 2v15a2 2 0 0 0 2 2h6" fill="none" stroke="#fff" stroke-width="2.400"/><path d="M6 8.500h8.500V3l10 9-10 9v-5.500H6z" fill="#fff"/></svg>
<svg class="b" style="left:2359.6px;top:740.52px;width:30.4px;height:20.8px;" viewBox="0 0 30 18"><rect x="0" y="1" width="22" height="16" rx="3" fill="#fff"/><path d="M22 7l8-5v14l-8-5z" fill="#fff"/></svg>
<div class="b" style="left:2456.4px;top:732.52px;width:24.8px;height:36.8px;background:#00a9a5;border-radius:3.2px 0 0 3.2px;"></div>
<div class="b" style="left:803.2px;top:841.88px;width:1679.2px;height:1.2px;background:#ececec;"></div>
<div class="b" style="left:820px;top:803.56px;width:18.4px;height:18.4px;background:#fff;border:1.8px solid #c6cad2;box-sizing:border-box;border-radius:2px;"></div>
<div class="t" style="top:796.46px;font-size:19px;line-height:26.6px;color:#555;left:912.8px;transform:translateX(-50%);">平台机构</div>
<div class="t" style="top:796.46px;font-size:19px;line-height:26.6px;color:#555;left:982px;">E楼学...</div>
<div class="t" style="top:796.46px;font-size:19px;line-height:26.6px;color:#555;left:1131.8px;transform:translateX(-50%);">EC电表</div>
<div class="t" style="top:796.46px;font-size:19px;line-height:26.6px;color:#555;left:1241.6px;transform:translateX(-50%);">现场报警</div>
<div class="t" style="top:796.46px;font-size:19px;line-height:26.6px;color:#555;left:1310.8px;">C相电...</div>
<div class="t en" style="top:800.44px;font-size:18.8px;line-height:26.32px;color:#555;left:1521.8px;transform:translateX(-50%);">2023-07-06 09:33:33</div>
<div class="t" style="top:796.46px;font-size:19px;line-height:26.6px;color:#555;left:1800px;transform:translateX(-50%);">设备2 标签 35 类型 报警恢复 当...</div>
<div class="b" style="left:1984.8px;top:798.36px;width:75.2px;height:27.2px;background:#fdb813;border-radius:13.6px;"></div>
<div class="t" style="top:802.52px;font-size:16.4px;line-height:22.96px;color:#fff;left:2022.4px;transform:translateX(-50%);">严重</div>
<div class="t" style="top:797.5px;font-size:18.2px;line-height:25.48px;color:#f5474b;left:2144px;transform:translateX(-50%);">未确认</div>
<div class="b" style="left:2231.2px;top:797.16px;width:170.4px;height:29.6px;background:#00a9a5;border-radius:4px;"></div>
<div class="b" style="left:2286.8px;top:797.16px;width:1.2px;height:29.6px;background:#7fd4d2;"></div>
<div class="b" style="left:2344.4px;top:797.16px;width:1.2px;height:29.6px;background:#7fd4d2;"></div>
<svg class="b" style="left:2246.4px;top:798.56px;width:26.8px;height:26.8px;" viewBox="0 0 24 24"><circle cx="12" cy="12" r="12" fill="#fff"/><path d="M6.500 12.500l4 4 7-8" fill="none" stroke="#00a9a5" stroke-width="2.800"/></svg>
<svg class="b" style="left:2300.8px;top:798.36px;width:30.4px;height:27.2px;" viewBox="0 0 25 24"><path d="M9.500 2.500H3.500a2 2 0 0 0-2 2v15a2 2 0 0 0 2 2h6" fill="none" stroke="#fff" stroke-width="2.400"/><path d="M6 8.500h8.500V3l10 9-10 9v-5.500H6z" fill="#fff"/></svg>
<svg class="b" style="left:2359.6px;top:801.56px;width:30.4px;height:20.8px;" viewBox="0 0 30 18"><rect x="0" y="1" width="22" height="16" rx="3" fill="#fff"/><path d="M22 7l8-5v14l-8-5z" fill="#fff"/></svg>
<div class="b" style="left:2456.4px;top:793.56px;width:24.8px;height:36.8px;background:#00a9a5;border-radius:3.2px 0 0 3.2px;"></div>
<div class="b" style="left:803.2px;top:902.92px;width:1679.2px;height:1.2px;background:#ececec;"></div>
<div class="b" style="left:820px;top:864.6px;width:18.4px;height:18.4px;background:#fff;border:1.8px solid #c6cad2;box-sizing:border-box;border-radius:2px;"></div>
<div class="t" style="top:860.46px;font-size:19px;line-height:26.6px;color:#555;left:912.8px;transform:translateX(-50%);">平台机构</div>
<div class="t" style="top:860.46px;font-size:19px;line-height:26.6px;color:#555;left:982px;">E楼学...</div>
<div class="t" style="top:860.46px;font-size:19px;line-height:26.6px;color:#555;left:1131.8px;transform:translateX(-50%);">EC电表</div>
<div class="t" style="top:860.46px;font-size:19px;line-height:26.6px;color:#555;left:1241.6px;transform:translateX(-50%);">现场报警</div>
<div class="t" style="top:860.46px;font-size:19px;line-height:26.6px;color:#555;left:1310.8px;">C相电...</div>
<div class="t en" style="top:860.44px;font-size:18.8px;line-height:26.32px;color:#555;left:1521.8px;transform:translateX(-50%);">2023-07-06 09:33:17</div>
<div class="t" style="top:860.46px;font-size:19px;line-height:26.6px;color:#555;left:1800px;transform:translateX(-50%);">设备2 标签 35 类型 报警恢复 当...</div>
<div class="b" style="left:1984.8px;top:859.4px;width:75.2px;height:27.2px;background:#fdb813;border-radius:13.6px;"></div>
<div class="t" style="top:862.52px;font-size:16.4px;line-height:22.96px;color:#fff;left:2022.4px;transform:translateX(-50%);">严重</div>
<div class="t" style="top:861.5px;font-size:18.2px;line-height:25.48px;color:#f5474b;left:2144px;transform:translateX(-50%);">未确认</div>
<div class="b" style="left:2231.2px;top:858.2px;width:170.4px;height:29.6px;background:#00a9a5;border-radius:4px;"></div>
<div class="b" style="left:2286.8px;top:858.2px;width:1.2px;height:29.6px;background:#7fd4d2;"></div>
<div class="b" style="left:2344.4px;top:858.2px;width:1.2px;height:29.6px;background:#7fd4d2;"></div>
<svg class="b" style="left:2246.4px;top:859.6px;width:26.8px;height:26.8px;" viewBox="0 0 24 24"><circle cx="12" cy="12" r="12" fill="#fff"/><path d="M6.500 12.500l4 4 7-8" fill="none" stroke="#00a9a5" stroke-width="2.800"/></svg>
<svg class="b" style="left:2300.8px;top:859.4px;width:30.4px;height:27.2px;" viewBox="0 0 25 24"><path d="M9.500 2.500H3.500a2 2 0 0 0-2 2v15a2 2 0 0 0 2 2h6" fill="none" stroke="#fff" stroke-width="2.400"/><path d="M6 8.500h8.500V3l10 9-10 9v-5.500H6z" fill="#fff"/></svg>
<svg class="b" style="left:2359.6px;top:862.6px;width:30.4px;height:20.8px;" viewBox="0 0 30 18"><rect x="0" y="1" width="22" height="16" rx="3" fill="#fff"/><path d="M22 7l8-5v14l-8-5z" fill="#fff"/></svg>
<div class="b" style="left:2456.4px;top:854.6px;width:24.8px;height:36.8px;background:#00a9a5;border-radius:3.2px 0 0 3.2px;"></div>
<div class="b" style="left:803.2px;top:963.96px;width:1679.2px;height:1.2px;background:#ececec;"></div>
<div class="b" style="left:820px;top:925.64px;width:18.4px;height:18.4px;background:#fff;border:1.8px solid #c6cad2;box-sizing:border-box;border-radius:2px;"></div>
<div class="t" style="top:920.46px;font-size:19px;line-height:26.6px;color:#555;left:912.8px;transform:translateX(-50%);">平台机构</div>
<div class="t" style="top:920.46px;font-size:19px;line-height:26.6px;color:#555;left:982px;">E楼学...</div>
<div class="t" style="top:920.46px;font-size:19px;line-height:26.6px;color:#555;left:1131.8px;transform:translateX(-50%);">EC电表</div>
<div class="t" style="top:920.46px;font-size:19px;line-height:26.6px;color:#555;left:1241.6px;transform:translateX(-50%);">现场报警</div>
<div class="t" style="top:920.46px;font-size:19px;line-height:26.6px;color:#555;left:1310.8px;">C相电...</div>
<div class="t en" style="top:920.44px;font-size:18.8px;line-height:26.32px;color:#555;left:1521.8px;transform:translateX(-50%);">2023-07-06 09:31:40</div>
<div class="t" style="top:920.46px;font-size:19px;line-height:26.6px;color:#555;left:1800px;transform:translateX(-50%);">设备2 标签 35 类型 报警恢复 当...</div>
<div class="b" style="left:1984.8px;top:920.44px;width:75.2px;height:27.2px;background:#fdb813;border-radius:13.6px;"></div>
<div class="t" style="top:926.52px;font-size:16.4px;line-height:22.96px;color:#fff;left:2022.4px;transform:translateX(-50%);">严重</div>
<div class="t" style="top:921.5px;font-size:18.2px;line-height:25.48px;color:#f5474b;left:2144px;transform:translateX(-50%);">未确认</div>
<div class="b" style="left:2231.2px;top:919.24px;width:170.4px;height:29.6px;background:#00a9a5;border-radius:4px;"></div>
<div class="b" style="left:2286.8px;top:919.24px;width:1.2px;height:29.6px;background:#7fd4d2;"></div>
<div class="b" style="left:2344.4px;top:919.24px;width:1.2px;height:29.6px;background:#7fd4d2;"></div>
<svg class="b" style="left:2246.4px;top:920.64px;width:26.8px;height:26.8px;" viewBox="0 0 24 24"><circle cx="12" cy="12" r="12" fill="#fff"/><path d="M6.500 12.500l4 4 7-8" fill="none" stroke="#00a9a5" stroke-width="2.800"/></svg>
<svg class="b" style="left:2300.8px;top:920.44px;width:30.4px;height:27.2px;" viewBox="0 0 25 24"><path d="M9.500 2.500H3.500a2 2 0 0 0-2 2v15a2 2 0 0 0 2 2h6" fill="none" stroke="#fff" stroke-width="2.400"/><path d="M6 8.500h8.500V3l10 9-10 9v-5.500H6z" fill="#fff"/></svg>
<svg class="b" style="left:2359.6px;top:923.64px;width:30.4px;height:20.8px;" viewBox="0 0 30 18"><rect x="0" y="1" width="22" height="16" rx="3" fill="#fff"/><path d="M22 7l8-5v14l-8-5z" fill="#fff"/></svg>
<div class="b" style="left:2456.4px;top:915.64px;width:24.8px;height:36.8px;background:#00a9a5;border-radius:3.2px 0 0 3.2px;"></div>
<div class="b" style="left:803.2px;top:1025px;width:1679.2px;height:1.2px;background:#ececec;"></div>
<div class="b" style="left:820px;top:986.68px;width:18.4px;height:18.4px;background:#fff;border:1.8px solid #c6cad2;box-sizing:border-box;border-radius:2px;"></div>
<div class="t" style="top:980.46px;font-size:19px;line-height:26.6px;color:#555;left:912.8px;transform:translateX(-50%);">平台机构</div>
<div class="t" style="top:980.46px;font-size:19px;line-height:26.6px;color:#555;left:982px;">E楼学...</div>
<div class="t" style="top:980.46px;font-size:19px;line-height:26.6px;color:#555;left:1131.8px;transform:translateX(-50%);">EC电表</div>
<div class="t" style="top:980.46px;font-size:19px;line-height:26.6px;color:#555;left:1241.6px;transform:translateX(-50%);">现场报警</div>
<div class="t" style="top:980.46px;font-size:19px;line-height:26.6px;color:#555;left:1310.8px;">C相电...</div>
<div class="t en" style="top:980.44px;font-size:18.8px;line-height:26.32px;color:#555;left:1521.8px;transform:translateX(-50%);">2023-07-06 09:30:29</div>
<div class="t" style="top:980.46px;font-size:19px;line-height:26.6px;color:#555;left:1800px;transform:translateX(-50%);">设备2 标签 35 类型 报警恢复 当...</div>
<div class="b" style="left:1984.8px;top:981.48px;width:75.2px;height:27.2px;background:#fdb813;border-radius:13.6px;"></div>
<div class="t" style="top:986.52px;font-size:16.4px;line-height:22.96px;color:#fff;left:2022.4px;transform:translateX(-50%);">严重</div>
<div class="t" style="top:981.5px;font-size:18.2px;line-height:25.48px;color:#f5474b;left:2144px;transform:translateX(-50%);">未确认</div>
<div class="b" style="left:2231.2px;top:980.28px;width:170.4px;height:29.6px;background:#00a9a5;border-radius:4px;"></div>
<div class="b" style="left:2286.8px;top:980.28px;width:1.2px;height:29.6px;background:#7fd4d2;"></div>
<div class="b" style="left:2344.4px;top:980.28px;width:1.2px;height:29.6px;background:#7fd4d2;"></div>
<svg class="b" style="left:2246.4px;top:981.68px;width:26.8px;height:26.8px;" viewBox="0 0 24 24"><circle cx="12" cy="12" r="12" fill="#fff"/><path d="M6.500 12.500l4 4 7-8" fill="none" stroke="#00a9a5" stroke-width="2.800"/></svg>
<svg class="b" style="left:2300.8px;top:981.48px;width:30.4px;height:27.2px;" viewBox="0 0 25 24"><path d="M9.500 2.500H3.500a2 2 0 0 0-2 2v15a2 2 0 0 0 2 2h6" fill="none" stroke="#fff" stroke-width="2.400"/><path d="M6 8.500h8.500V3l10 9-10 9v-5.500H6z" fill="#fff"/></svg>
<svg class="b" style="left:2359.6px;top:984.68px;width:30.4px;height:20.8px;" viewBox="0 0 30 18"><rect x="0" y="1" width="22" height="16" rx="3" fill="#fff"/><path d="M22 7l8-5v14l-8-5z" fill="#fff"/></svg>
<div class="b" style="left:2456.4px;top:976.68px;width:24.8px;height:36.8px;background:#00a9a5;border-radius:3.2px 0 0 3.2px;"></div>
<div class="b" style="left:803.2px;top:1086.04px;width:1679.2px;height:1.2px;background:#ececec;"></div>
<div class="b" style="left:820px;top:1047.72px;width:18.4px;height:18.4px;background:#fff;border:1.8px solid #c6cad2;box-sizing:border-box;border-radius:2px;"></div>
<div class="t" style="top:1040.46px;font-size:19px;line-height:26.6px;color:#555;left:912.8px;transform:translateX(-50%);">平台机构</div>
<div class="t" style="top:1040.46px;font-size:19px;line-height:26.6px;color:#555;left:982px;">E楼学...</div>
<div class="t" style="top:1040.46px;font-size:19px;line-height:26.6px;color:#555;left:1131.8px;transform:translateX(-50%);">EC电表</div>
<div class="t" style="top:1040.46px;font-size:19px;line-height:26.6px;color:#555;left:1241.6px;transform:translateX(-50%);">现场报警</div>
<div class="t" style="top:1040.46px;font-size:19px;line-height:26.6px;color:#555;left:1310.8px;">C相电...</div>
<div class="t en" style="top:1044.44px;font-size:18.8px;line-height:26.32px;color:#555;left:1521.8px;transform:translateX(-50%);">2023-07-06 09:30:21</div>
<div class="t" style="top:1040.46px;font-size:19px;line-height:26.6px;color:#555;left:1800px;transform:translateX(-50%);">设备2 标签 35 类型 报警恢复 当...</div>
<div class="b" style="left:1984.8px;top:1042.52px;width:75.2px;height:27.2px;background:#fdb813;border-radius:13.6px;"></div>
<div class="t" style="top:1046.52px;font-size:16.4px;line-height:22.96px;color:#fff;left:2022.4px;transform:translateX(-50%);">严重</div>
<div class="t" style="top:1041.5px;font-size:18.2px;line-height:25.48px;color:#f5474b;left:2144px;transform:translateX(-50%);">未确认</div>
<div class="b" style="left:2231.2px;top:1041.32px;width:170.4px;height:29.6px;background:#00a9a5;border-radius:4px;"></div>
<div class="b" style="left:2286.8px;top:1041.32px;width:1.2px;height:29.6px;background:#7fd4d2;"></div>
<div class="b" style="left:2344.4px;top:1041.32px;width:1.2px;height:29.6px;background:#7fd4d2;"></div>
<svg class="b" style="left:2246.4px;top:1042.72px;width:26.8px;height:26.8px;" viewBox="0 0 24 24"><circle cx="12" cy="12" r="12" fill="#fff"/><path d="M6.500 12.500l4 4 7-8" fill="none" stroke="#00a9a5" stroke-width="2.800"/></svg>
<svg class="b" style="left:2300.8px;top:1042.52px;width:30.4px;height:27.2px;" viewBox="0 0 25 24"><path d="M9.500 2.500H3.500a2 2 0 0 0-2 2v15a2 2 0 0 0 2 2h6" fill="none" stroke="#fff" stroke-width="2.400"/><path d="M6 8.500h8.500V3l10 9-10 9v-5.500H6z" fill="#fff"/></svg>
<svg class="b" style="left:2359.6px;top:1045.72px;width:30.4px;height:20.8px;" viewBox="0 0 30 18"><rect x="0" y="1" width="22" height="16" rx="3" fill="#fff"/><path d="M22 7l8-5v14l-8-5z" fill="#fff"/></svg>
<div class="b" style="left:2456.4px;top:1037.72px;width:24.8px;height:36.8px;background:#00a9a5;border-radius:3.2px 0 0 3.2px;"></div>
<div class="b" style="left:803.2px;top:1147.08px;width:1679.2px;height:1.2px;background:#ececec;"></div>
<div class="b" style="left:820px;top:1108.76px;width:18.4px;height:18.4px;background:#fff;border:1.8px solid #c6cad2;box-sizing:border-box;border-radius:2px;"></div>
<div class="t" style="top:1104.46px;font-size:19px;line-height:26.6px;color:#555;left:912.8px;transform:translateX(-50%);">平台机构</div>
<div class="t" style="top:1104.46px;font-size:19px;line-height:26.6px;color:#555;left:982px;">E楼学...</div>
<div class="t" style="top:1104.46px;font-size:19px;line-height:26.6px;color:#555;left:1131.8px;transform:translateX(-50%);">EC电表</div>
<div class="t" style="top:1104.46px;font-size:19px;line-height:26.6px;color:#555;left:1241.6px;transform:translateX(-50%);">现场报警</div>
<div class="t" style="top:1104.46px;font-size:19px;line-height:26.6px;color:#555;left:1310.8px;">C相电...</div>
<div class="t en" style="top:1104.44px;font-size:18.8px;line-height:26.32px;color:#555;left:1521.8px;transform:translateX(-50%);">2023-07-06 09:28:49</div>
<div class="t" style="top:1104.46px;font-size:19px;line-height:26.6px;color:#555;left:1800px;transform:translateX(-50%);">设备2 标签 35 类型 报警恢复 当...</div>
<div class="b" style="left:1984.8px;top:1103.56px;width:75.2px;height:27.2px;background:#fdb813;border-radius:13.6px;"></div>
<div class="t" style="top:1106.52px;font-size:16.4px;line-height:22.96px;color:#fff;left:2022.4px;transform:translateX(-50%);">严重</div>
<div class="t" style="top:1105.5px;font-size:18.2px;line-height:25.48px;color:#f5474b;left:2144px;transform:translateX(-50%);">未确认</div>
<div class="b" style="left:2231.2px;top:1102.36px;width:170.4px;height:29.6px;background:#00a9a5;border-radius:4px;"></div>
<div class="b" style="left:2286.8px;top:1102.36px;width:1.2px;height:29.6px;background:#7fd4d2;"></div>
<div class="b" style="left:2344.4px;top:1102.36px;width:1.2px;height:29.6px;background:#7fd4d2;"></div>
<svg class="b" style="left:2246.4px;top:1103.76px;width:26.8px;height:26.8px;" viewBox="0 0 24 24"><circle cx="12" cy="12" r="12" fill="#fff"/><path d="M6.500 12.500l4 4 7-8" fill="none" stroke="#00a9a5" stroke-width="2.800"/></svg>
<svg class="b" style="left:2300.8px;top:1103.56px;width:30.4px;height:27.2px;" viewBox="0 0 25 24"><path d="M9.500 2.500H3.500a2 2 0 0 0-2 2v15a2 2 0 0 0 2 2h6" fill="none" stroke="#fff" stroke-width="2.400"/><path d="M6 8.500h8.500V3l10 9-10 9v-5.500H6z" fill="#fff"/></svg>
<svg class="b" style="left:2359.6px;top:1106.76px;width:30.4px;height:20.8px;" viewBox="0 0 30 18"><rect x="0" y="1" width="22" height="16" rx="3" fill="#fff"/><path d="M22 7l8-5v14l-8-5z" fill="#fff"/></svg>
<div class="b" style="left:2456.4px;top:1098.76px;width:24.8px;height:36.8px;background:#00a9a5;border-radius:3.2px 0 0 3.2px;"></div>
<div class="b" style="left:803.2px;top:1208.12px;width:1679.2px;height:1.2px;background:#ececec;"></div>
<div class="b" style="left:820px;top:1169.8px;width:18.4px;height:18.4px;background:#fff;border:1.8px solid #c6cad2;box-sizing:border-box;border-radius:2px;"></div>
<div class="t" style="top:1164.46px;font-size:19px;line-height:26.6px;color:#555;left:912.8px;transform:translateX(-50%);">平台机构</div>
<div class="t" style="top:1164.46px;font-size:19px;line-height:26.6px;color:#555;left:982px;">E楼学...</div>
<div class="t" style="top:1164.46px;font-size:19px;line-height:26.6px;color:#555;left:1131.8px;transform:translateX(-50%);">EC电表</div>
<div class="t" style="top:1164.46px;font-size:19px;line-height:26.6px;color:#555;left:1241.6px;transform:translateX(-50%);">现场报警</div>
<div class="t" style="top:1164.46px;font-size:19px;line-height:26.6px;color:#555;left:1310.8px;">C相电...</div>
<div class="t en" style="top:1164.44px;font-size:18.8px;line-height:26.32px;color:#555;left:1521.8px;transform:translateX(-50%);">2023-07-06 09:25:46</div>
<div class="t" style="top:1164.46px;font-size:19px;line-height:26.6px;color:#555;left:1800px;transform:translateX(-50%);">设备2 标签 35 类型 报警恢复 当...</div>
<div class="b" style="left:1984.8px;top:1164.6px;width:75.2px;height:27.2px;background:#fdb813;border-radius:13.6px;"></div>
<div class="t" style="top:1170.52px;font-size:16.4px;line-height:22.96px;color:#fff;left:2022.4px;transform:translateX(-50%);">严重</div>
<div class="t" style="top:1165.5px;font-size:18.2px;line-height:25.48px;color:#f5474b;left:2144px;transform:translateX(-50%);">未确认</div>
<div class="b" style="left:2231.2px;top:1163.4px;width:170.4px;height:29.6px;background:#00a9a5;border-radius:4px;"></div>
<div class="b" style="left:2286.8px;top:1163.4px;width:1.2px;height:29.6px;background:#7fd4d2;"></div>
<div class="b" style="left:2344.4px;top:1163.4px;width:1.2px;height:29.6px;background:#7fd4d2;"></div>
<svg class="b" style="left:2246.4px;top:1164.8px;width:26.8px;height:26.8px;" viewBox="0 0 24 24"><circle cx="12" cy="12" r="12" fill="#fff"/><path d="M6.500 12.500l4 4 7-8" fill="none" stroke="#00a9a5" stroke-width="2.800"/></svg>
<svg class="b" style="left:2300.8px;top:1164.6px;width:30.4px;height:27.2px;" viewBox="0 0 25 24"><path d="M9.500 2.500H3.500a2 2 0 0 0-2 2v15a2 2 0 0 0 2 2h6" fill="none" stroke="#fff" stroke-width="2.400"/><path d="M6 8.500h8.500V3l10 9-10 9v-5.500H6z" fill="#fff"/></svg>
<svg class="b" style="left:2359.6px;top:1167.8px;width:30.4px;height:20.8px;" viewBox="0 0 30 18"><rect x="0" y="1" width="22" height="16" rx="3" fill="#fff"/><path d="M22 7l8-5v14l-8-5z" fill="#fff"/></svg>
<div class="b" style="left:2456.4px;top:1159.8px;width:24.8px;height:36.8px;background:#00a9a5;border-radius:3.2px 0 0 3.2px;"></div>
<div class="b" style="left:803.2px;top:1269.16px;width:1679.2px;height:1.2px;background:#ececec;"></div>
<div class="b" style="left:820px;top:1230.84px;width:18.4px;height:18.4px;background:#fff;border:1.8px solid #c6cad2;box-sizing:border-box;border-radius:2px;"></div>
<div class="t" style="top:1224.46px;font-size:19px;line-height:26.6px;color:#555;left:912.8px;transform:translateX(-50%);">平台机构</div>
<div class="t" style="top:1224.46px;font-size:19px;line-height:26.6px;color:#555;left:982px;">E楼学...</div>
<div class="t" style="top:1224.46px;font-size:19px;line-height:26.6px;color:#555;left:1131.8px;transform:translateX(-50%);">EC电表</div>
<div class="t" style="top:1224.46px;font-size:19px;line-height:26.6px;color:#555;left:1241.6px;transform:translateX(-50%);">现场报警</div>
<div class="t" style="top:1224.46px;font-size:19px;line-height:26.6px;color:#555;left:1310.8px;">C相电...</div>
<div class="t en" style="top:1224.44px;font-size:18.8px;line-height:26.32px;color:#555;left:1521.8px;transform:translateX(-50%);">2023-07-06 09:24:32</div>
<div class="t" style="top:1224.46px;font-size:19px;line-height:26.6px;color:#555;left:1800px;transform:translateX(-50%);">设备2 标签 35 类型 报警恢复 当...</div>
<div class="b" style="left:1984.8px;top:1225.64px;width:75.2px;height:27.2px;background:#fdb813;border-radius:13.6px;"></div>
<div class="t" style="top:1230.52px;font-size:16.4px;line-height:22.96px;color:#fff;left:2022.4px;transform:translateX(-50%);">严重</div>
<div class="t" style="top:1225.5px;font-size:18.2px;line-height:25.48px;color:#f5474b;left:2144px;transform:translateX(-50%);">未确认</div>
<div class="b" style="left:2231.2px;top:1224.44px;width:170.4px;height:29.6px;background:#00a9a5;border-radius:4px;"></div>
<div class="b" style="left:2286.8px;top:1224.44px;width:1.2px;height:29.6px;background:#7fd4d2;"></div>
<div class="b" style="left:2344.4px;top:1224.44px;width:1.2px;height:29.6px;background:#7fd4d2;"></div>
<svg class="b" style="left:2246.4px;top:1225.84px;width:26.8px;height:26.8px;" viewBox="0 0 24 24"><circle cx="12" cy="12" r="12" fill="#fff"/><path d="M6.500 12.500l4 4 7-8" fill="none" stroke="#00a9a5" stroke-width="2.800"/></svg>
<svg class="b" style="left:2300.8px;top:1225.64px;width:30.4px;height:27.2px;" viewBox="0 0 25 24"><path d="M9.500 2.500H3.500a2 2 0 0 0-2 2v15a2 2 0 0 0 2 2h6" fill="none" stroke="#fff" stroke-width="2.400"/><path d="M6 8.500h8.500V3l10 9-10 9v-5.500H6z" fill="#fff"/></svg>
<svg class="b" style="left:2359.6px;top:1228.84px;width:30.4px;height:20.8px;" viewBox="0 0 30 18"><rect x="0" y="1" width="22" height="16" rx="3" fill="#fff"/><path d="M22 7l8-5v14l-8-5z" fill="#fff"/></svg>
<div class="b" style="left:2456.4px;top:1220.84px;width:24.8px;height:36.8px;background:#00a9a5;border-radius:3.2px 0 0 3.2px;"></div>
<div class="b" style="left:803.2px;top:1330.2px;width:1679.2px;height:1.2px;background:#ececec;"></div>
<div class="b" style="left:820px;top:1291.88px;width:18.4px;height:18.4px;background:#fff;border:1.8px solid #c6cad2;box-sizing:border-box;border-radius:2px;"></div>
<div class="t" style="top:1284.46px;font-size:19px;line-height:26.6px;color:#555;left:912.8px;transform:translateX(-50%);">平台机构</div>
<div class="t" style="top:1284.46px;font-size:19px;line-height:26.6px;color:#555;left:982px;">E楼学...</div>
<div class="t" style="top:1284.46px;font-size:19px;line-height:26.6px;color:#555;left:1131.8px;transform:translateX(-50%);">EC电表</div>
<div class="t" style="top:1284.46px;font-size:19px;line-height:26.6px;color:#555;left:1241.6px;transform:translateX(-50%);">现场报警</div>
<div class="t" style="top:1284.46px;font-size:19px;line-height:26.6px;color:#555;left:1310.8px;">C相电...</div>
<div class="t en" style="top:1288.44px;font-size:18.8px;line-height:26.32px;color:#555;left:1521.8px;transform:translateX(-50%);">2023-07-06 09:21:01</div>
<div class="t" style="top:1284.46px;font-size:19px;line-height:26.6px;color:#555;left:1800px;transform:translateX(-50%);">设备2 标签 35 类型 报警恢复 当...</div>
<div class="b" style="left:1984.8px;top:1286.68px;width:75.2px;height:27.2px;background:#fdb813;border-radius:13.6px;"></div>
<div class="t" style="top:1290.52px;font-size:16.4px;line-height:22.96px;color:#fff;left:2022.4px;transform:translateX(-50%);">严重</div>
<div class="t" style="top:1285.5px;font-size:18.2px;line-height:25.48px;color:#f5474b;left:2144px;transform:translateX(-50%);">未确认</div>
<div class="b" style="left:2231.2px;top:1285.48px;width:170.4px;height:29.6px;background:#00a9a5;border-radius:4px;"></div>
<div class="b" style="left:2286.8px;top:1285.48px;width:1.2px;height:29.6px;background:#7fd4d2;"></div>
<div class="b" style="left:2344.4px;top:1285.48px;width:1.2px;height:29.6px;background:#7fd4d2;"></div>
<svg class="b" style="left:2246.4px;top:1286.88px;width:26.8px;height:26.8px;" viewBox="0 0 24 24"><circle cx="12" cy="12" r="12" fill="#fff"/><path d="M6.500 12.500l4 4 7-8" fill="none" stroke="#00a9a5" stroke-width="2.800"/></svg>
<svg class="b" style="left:2300.8px;top:1286.68px;width:30.4px;height:27.2px;" viewBox="0 0 25 24"><path d="M9.500 2.500H3.500a2 2 0 0 0-2 2v15a2 2 0 0 0 2 2h6" fill="none" stroke="#fff" stroke-width="2.400"/><path d="M6 8.500h8.500V3l10 9-10 9v-5.500H6z" fill="#fff"/></svg>
<svg class="b" style="left:2359.6px;top:1289.88px;width:30.4px;height:20.8px;" viewBox="0 0 30 18"><rect x="0" y="1" width="22" height="16" rx="3" fill="#fff"/><path d="M22 7l8-5v14l-8-5z" fill="#fff"/></svg>
<div class="b" style="left:2456.4px;top:1281.88px;width:24.8px;height:36.8px;background:#00a9a5;border-radius:3.2px 0 0 3.2px;"></div>
<div class="b" style="left:803.2px;top:1391.24px;width:1679.2px;height:1.2px;background:#ececec;"></div>
<div class="b" style="left:820px;top:1352.92px;width:18.4px;height:18.4px;background:#fff;border:1.8px solid #c6cad2;box-sizing:border-box;border-radius:2px;"></div>
<div class="t" style="top:1348.46px;font-size:19px;line-height:26.6px;color:#555;left:912.8px;transform:translateX(-50%);">平台机构</div>
<div class="t" style="top:1348.46px;font-size:19px;line-height:26.6px;color:#555;left:982px;">E楼学...</div>
<div class="t" style="top:1348.46px;font-size:19px;line-height:26.6px;color:#555;left:1131.8px;transform:translateX(-50%);">EC电表</div>
<div class="t" style="top:1348.46px;font-size:19px;line-height:26.6px;color:#555;left:1241.6px;transform:translateX(-50%);">现场报警</div>
<div class="t" style="top:1348.46px;font-size:19px;line-height:26.6px;color:#555;left:1310.8px;">C相电...</div>
<div class="t en" style="top:1348.44px;font-size:18.8px;line-height:26.32px;color:#555;left:1521.8px;transform:translateX(-50%);">2023-07-06 09:20:12</div>
<div class="t" style="top:1348.46px;font-size:19px;line-height:26.6px;color:#555;left:1800px;transform:translateX(-50%);">设备2 标签 35 类型 报警恢复 当...</div>
<div class="b" style="left:1984.8px;top:1347.72px;width:75.2px;height:27.2px;background:#fdb813;border-radius:13.6px;"></div>
<div class="t" style="top:1350.52px;font-size:16.4px;line-height:22.96px;color:#fff;left:2022.4px;transform:translateX(-50%);">严重</div>
<div class="t" style="top:1349.5px;font-size:18.2px;line-height:25.48px;color:#f5474b;left:2144px;transform:translateX(-50%);">未确认</div>
<div class="b" style="left:2231.2px;top:1346.52px;width:170.4px;height:29.6px;background:#00a9a5;border-radius:4px;"></div>
<div class="b" style="left:2286.8px;top:1346.52px;width:1.2px;height:29.6px;background:#7fd4d2;"></div>
<div class="b" style="left:2344.4px;top:1346.52px;width:1.2px;height:29.6px;background:#7fd4d2;"></div>
<svg class="b" style="left:2246.4px;top:1347.92px;width:26.8px;height:26.8px;" viewBox="0 0 24 24"><circle cx="12" cy="12" r="12" fill="#fff"/><path d="M6.500 12.500l4 4 7-8" fill="none" stroke="#00a9a5" stroke-width="2.800"/></svg>
<svg class="b" style="left:2300.8px;top:1347.72px;width:30.4px;height:27.2px;" viewBox="0 0 25 24"><path d="M9.500 2.500H3.500a2 2 0 0 0-2 2v15a2 2 0 0 0 2 2h6" fill="none" stroke="#fff" stroke-width="2.400"/><path d="M6 8.500h8.500V3l10 9-10 9v-5.500H6z" fill="#fff"/></svg>
<svg class="b" style="left:2359.6px;top:1350.92px;width:30.4px;height:20.8px;" viewBox="0 0 30 18"><rect x="0" y="1" width="22" height="16" rx="3" fill="#fff"/><path d="M22 7l8-5v14l-8-5z" fill="#fff"/></svg>
<div class="b" style="left:2456.4px;top:1342.92px;width:24.8px;height:36.8px;background:#00a9a5;border-radius:3.2px 0 0 3.2px;"></div>
<div class="b" style="left:2468.8px;top:415.2px;width:14.4px;height:960px;background:#fff;"></div>
<div class="b" style="left:2469px;top:418.4px;width:14px;height:279.2px;background:#c4c4c4;border-radius:1.6px;"></div>
</div></div>
<div class="b" style="left:803.2px;top:1344px;width:1679.2px;height:17.6px;background:#fbfbfb;"></div>
<div class="b" style="left:803.2px;top:1346px;width:1573.2px;height:15.2px;background:#c4c4c4;border-radius:7.6px;"></div>
<div class="b" style="left:803.2px;top:1376.8px;width:132px;height:46px;background:#00a9a5;border-radius:4px;"></div>
<div class="t" style="top:1388.46px;font-size:19px;line-height:26.6px;color:#fff;left:869.2px;transform:translateX(-50%);">一键确认</div>
<div class="t" style="top:1385.54px;font-size:17.8px;line-height:24.92px;color:#555;left:2046.4px;transform:translateX(-50%);">共 73 条</div>
<div class="b" style="left:2103.6px;top:1378px;width:133.2px;height:36px;background:#fff;border:1.4px solid #dadde4;box-sizing:border-box;border-radius:4.8px;"></div>
<div class="t" style="top:1385.54px;font-size:17.8px;line-height:24.92px;color:#555;left:2158px;transform:translateX(-50%);">50条/页</div>
<svg class="b" style="left:2212px;top:1388px;width:16px;height:16px;" viewBox="0 0 24 24"><path d="M2 8l10 10 10-10" fill="none" stroke="#c0c4cc" stroke-width="3.600"/></svg>
<div class="t en" style="top:1384.56px;font-size:18.4px;line-height:25.76px;color:#666;left:2284px;transform:translateX(-50%);">&lt;</div>
<div class="b" style="left:2320px;top:1378px;width:42px;height:36.8px;background:#00a9a5;border-radius:2.4px;"></div>
<div class="t en" style="top:1385.54px;font-size:17.8px;line-height:24.92px;color:#fff;font-weight:700;left:2340.8px;transform:translateX(-50%);">1</div>
<div class="t en" style="top:1385.54px;font-size:17.8px;line-height:24.92px;color:#333;font-weight:700;left:2395.2px;transform:translateX(-50%);">2</div>
<div class="t en" style="top:1384.56px;font-size:18.4px;line-height:25.76px;color:#666;left:2450.4px;transform:translateX(-50%);">&gt;</div>
<div class="b" style="left:2468.8px;top:1181.2px;width:29.6px;height:28px;background:#fff;border-radius:3.2px;"></div>
<svg class="b" style="left:2474.8px;top:1187.2px;width:17.6px;height:16px;" viewBox="0 0 24 24"><path d="M3 7h18M17 3l4 4-4 4M21 17H3M7 13l-4 4 4 4" fill="none" stroke="#333" stroke-width="3"/></svg>
</div>
<div class="b" style="left:0;top:1439.6px;width:2584px;height:1415.6px;overflow:hidden">
<div class="b" style="left:0;top:-1439.6px;width:10px;height:10px">
<div class="b" style="left:336px;top:1439.6px;width:2190px;height:1415.6px;background:#f3f3f3;"></div>
<div class="b" style="left:48.4px;top:1439.6px;width:287.6px;height:1415.6px;background:#018093;overflow:hidden;"></div>
<div class="b" style="left:48.4px;top:2388.2px;width:287.6px;height:372px;background:#0a9aa7;"></div>
<div class="b" style="left:48.4px;top:2326.2px;width:287.6px;height:62px;background:#047488;"></div>
<div class="b" style="left:48.4px;top:2636.2px;width:287.6px;height:62px;background:#26688a;"></div>
<div class="b" style="left:144.2px;top:1463.6px;width:96px;height:96px;background:#fff;border-radius:50%;"></div>
<svg class="b" preserveAspectRatio="none" style="left:157.4px;top:1470.4px;width:74.4px;height:76px" viewBox="0 0 24 24"><defs><linearGradient id="ag377" x1="0" y1="0" x2="0" y2="1"><stop offset="0" stop-color="#4ccb7c"/><stop offset="1" stop-color="#22b392"/></linearGradient></defs><g fill="url(#ag377)" stroke="none"><path d="M6.300 9.400a5.500 5.200 0 0 1 11 0z"/><rect x="5.700" y="9.100" width="12.200" height="1.400" rx=".7"/><rect x="11" y="3.4" width="2" height="2.6" rx=".5"/><path d="M8 11.4h8a4 4.4 0 0 1-8 0zm1.1.9a2.9 3.1 0 0 0 5.8 0z" fill-rule="evenodd"/><path d="M3.2 21.2c.5-3.4 3.2-5.2 6.2-5.700l2.600 2.300 2.600-2.300c1.400.3 2.500.8 3.400 1.600v4.100z"/></g><path d="M14.6 14.4h6.300c.9 0 1.300.600 1.100 1.500l-.8 3.700c-.2.900-.9 1.500-1.800 1.500h-4.800z" fill="#fff" stroke="#2fbd82" stroke-width="1.100"/><path d="M16.400 19.400v-1.600M18.100 19.400v-3M19.800 19.400v-2.200" stroke="#2fbd82" stroke-width=".9" fill="none"/><rect x="3" y="20.600" width="19" height="1" fill="#22b392"/></svg>
<div class="t en" style="top:1580.46px;font-size:19px;line-height:26.6px;color:#e9f5f6;left:192.2px;transform:translateX(-50%);">guestenergy</div>
<svg class="b" style="left:92.6px;top:1662.6px;width:25.2px;height:25.2px;" viewBox="0 0 24 24"><rect x="3" y="15" width="4" height="7" fill="#fff"/><rect x="10" y="9" width="4" height="13" fill="#fff"/><rect x="17" y="3" width="4" height="19" fill="#fff"/></svg>
<div class="t" style="top:1659.54px;font-size:19.4px;line-height:27.16px;color:#fff;left:135.6px;">电能统计</div>
<svg class="b" style="left:292.4px;top:1666px;width:16px;height:16px;" viewBox="0 0 24 24"><path d="M2 8l10 10 10-10" fill="none" stroke="#f2fafa" stroke-width="3.600"/></svg>
<svg class="b" style="left:92.6px;top:1724.6px;width:25.2px;height:25.2px;" viewBox="0 0 24 24"><rect x="3" y="4" width="18" height="17" rx="1.5" fill="#fff"/><path d="M5 12l4-3 4 3 5-4" stroke="#018093" stroke-width="2" fill="none"/><rect x="3" y="2" width="3" height="4" fill="#fff"/><rect x="18" y="2" width="3" height="4" fill="#fff"/></svg>
<div class="t" style="top:1723.54px;font-size:19.4px;line-height:27.16px;color:#fff;left:135.6px;">能耗分析</div>
<svg class="b" style="left:292.4px;top:1728px;width:16px;height:16px;" viewBox="0 0 24 24"><path d="M2 8l10 10 10-10" fill="none" stroke="#f2fafa" stroke-width="3.600"/></svg>
<svg class="b" style="left:92.6px;top:1786.6px;width:25.2px;height:25.2px;" viewBox="0 0 24 24"><rect x="3" y="2" width="12" height="17" rx="1.5" fill="#fff"/><circle cx="16" cy="17" r="5.5" fill="#fff" stroke="#018093" stroke-width="1.5"/><path d="M6 6h6M6 10h4" stroke="#018093" stroke-width="1.8"/></svg>
<div class="t" style="top:1783.54px;font-size:19.4px;line-height:27.16px;color:#fff;left:135.6px;">预付费系统</div>
<svg class="b" style="left:292.4px;top:1790px;width:16px;height:16px;" viewBox="0 0 24 24"><path d="M2 8l10 10 10-10" fill="none" stroke="#f2fafa" stroke-width="3.600"/></svg>
<svg class="b" style="left:92.6px;top:1848.6px;width:25.2px;height:25.2px;" viewBox="0 0 24 24"><path d="M3 21v-7l7-4v4l7-4v4h4v7z" fill="#fff"/><path d="M5 8h12M8 4h10" stroke="#fff" stroke-width="2.4"/></svg>
<div class="t" style="top:1847.54px;font-size:19.4px;line-height:27.16px;color:#fff;left:135.6px;">工业能耗</div>
<svg class="b" style="left:92.6px;top:1910.6px;width:25.2px;height:25.2px;" viewBox="0 0 24 24"><rect x="2" y="4" width="20" height="16" rx="3" fill="#fff"/><path d="M7 11l4 4 6-6" stroke="#018093" stroke-width="2.2" fill="none"/></svg>
<div class="t" style="top:1907.54px;font-size:19.4px;line-height:27.16px;color:#fff;left:135.6px;">设备监测</div>
<svg class="b" style="left:292.4px;top:1914px;width:16px;height:16px;" viewBox="0 0 24 24"><path d="M2 8l10 10 10-10" fill="none" stroke="#f2fafa" stroke-width="3.600"/></svg>
<svg class="b" style="left:92.6px;top:1972.6px;width:25.2px;height:25.2px;" viewBox="0 0 24 24"><path d="M12 2.5a6.5 6.5 0 0 0-3.5 12v3h7v-3a6.5 6.5 0 0 0-3.5-12z" fill="none" stroke="#fff" stroke-width="1.8"/><path d="M9.5 21h5" stroke="#fff" stroke-width="2"/></svg>
<div class="t" style="top:1971.54px;font-size:19.4px;line-height:27.16px;color:#fff;left:135.6px;">智能照明</div>
<svg class="b" style="left:292.4px;top:1976px;width:16px;height:16px;" viewBox="0 0 24 24"><path d="M2 8l10 10 10-10" fill="none" stroke="#f2fafa" stroke-width="3.600"/></svg>
<svg class="b" style="left:92.6px;top:2034.6px;width:25.2px;height:25.2px;" viewBox="0 0 24 24"><rect x="3" y="3" width="12" height="18" rx="1.5" fill="#fff"/><path d="M18 6v12h3V9z" fill="#fff"/><path d="M10 7l-3 6h4l-2 5" stroke="#018093" stroke-width="1.8" fill="none"/></svg>
<div class="t" style="top:2031.54px;font-size:19.4px;line-height:27.16px;color:#fff;left:135.6px;">充电桩</div>
<svg class="b" style="left:292.4px;top:2038px;width:16px;height:16px;" viewBox="0 0 24 24"><path d="M2 8l10 10 10-10" fill="none" stroke="#f2fafa" stroke-width="3.600"/></svg>
<svg class="b" style="left:92.6px;top:2096.6px;width:25.2px;height:25.2px;" viewBox="0 0 24 24"><rect x="2" y="3" width="20" height="12" rx="1.5" fill="#fff"/><path d="M3 18h18M5 21h14" stroke="#fff" stroke-width="2"/></svg>
<div class="t" style="top:2095.54px;font-size:19.4px;line-height:27.16px;color:#fff;left:135.6px;">空调系统</div>
<svg class="b" style="left:292.4px;top:2100px;width:16px;height:16px;" viewBox="0 0 24 24"><path d="M2 8l10 10 10-10" fill="none" stroke="#f2fafa" stroke-width="3.600"/></svg>
<svg class="b" style="left:92.6px;top:2158.6px;width:25.2px;height:25.2px;" viewBox="0 0 24 24"><rect x="2" y="3" width="14" height="9" rx="1" fill="#fff"/><path d="M9 12v10M4 22h10" stroke="#fff" stroke-width="2.6"/><circle cx="20" cy="6" r="2.5" fill="#fff"/></svg>
<div class="t" style="top:2155.54px;font-size:19.4px;line-height:27.16px;color:#fff;left:135.6px;">环境监测</div>
<svg class="b" style="left:292.4px;top:2162px;width:16px;height:16px;" viewBox="0 0 24 24"><path d="M2 8l10 10 10-10" fill="none" stroke="#f2fafa" stroke-width="3.600"/></svg>
<svg class="b" style="left:92.6px;top:2220.6px;width:25.2px;height:25.2px;" viewBox="0 0 24 24"><rect x="2" y="3" width="20" height="18" rx="1.5" fill="#fff"/><path d="M2 9h20M2 15h20M9 9v12M15 9v12" stroke="#018093" stroke-width="1.6"/></svg>
<div class="t" style="top:2219.54px;font-size:19.4px;line-height:27.16px;color:#fff;left:135.6px;">设备档案</div>
<svg class="b" style="left:292.4px;top:2224px;width:16px;height:16px;" viewBox="0 0 24 24"><path d="M2 8l10 10 10-10" fill="none" stroke="#f2fafa" stroke-width="3.600"/></svg>
<svg class="b" style="left:92.6px;top:2282.6px;width:25.2px;height:25.2px;" viewBox="0 0 24 24"><rect x="2" y="3" width="20" height="7" fill="#fff"/><rect x="2" y="13" width="20" height="8" fill="#fff"/><path d="M6 17h4M14 17h4M8 6.5h8" stroke="#018093" stroke-width="1.8"/></svg>
<div class="t" style="top:2279.54px;font-size:19.4px;line-height:27.16px;color:#fff;left:135.6px;">运维管理</div>
<svg class="b" style="left:292.4px;top:2286px;width:16px;height:16px;" viewBox="0 0 24 24"><path d="M2 8l10 10 10-10" fill="none" stroke="#f2fafa" stroke-width="3.600"/></svg>
<svg class="b" style="left:92.6px;top:2344.6px;width:25.2px;height:25.2px;" viewBox="0 0 24 24"><path d="M7 9h10l2 13H5z" fill="#fff"/><path d="M9 9a3 3 0 0 1 6 0" stroke="#fff" stroke-width="2" fill="none"/><circle cx="12" cy="15" r="2" fill="#047488"/><path d="M12 2v3" stroke="#fff" stroke-width="2"/></svg>
<div class="t" style="top:2343.54px;font-size:19.4px;line-height:27.16px;color:#fff;left:135.6px;">故障报警</div>
<svg class="b" style="left:292.4px;top:2348px;width:16px;height:16px;" viewBox="0 0 24 24"><path d="M2 16l10-10 10 10" fill="none" stroke="#f2fafa" stroke-width="3.600"/></svg>
<div class="b" style="left:117.6px;top:2416.6px;width:5.2px;height:5.2px;background:#fff;"></div>
<div class="t" style="top:2403.54px;font-size:19.4px;line-height:27.16px;color:#fff;left:135.6px;">遥信事件</div>
<div class="b" style="left:117.6px;top:2478.6px;width:5.2px;height:5.2px;background:#fff;"></div>
<div class="t" style="top:2467.54px;font-size:19.4px;line-height:27.16px;color:#fff;left:135.6px;">遥测事件</div>
<div class="b" style="left:117.6px;top:2540.6px;width:5.2px;height:5.2px;background:#fff;"></div>
<div class="t" style="top:2527.54px;font-size:19.4px;line-height:27.16px;color:#fff;left:135.6px;">报警分类</div>
<div class="b" style="left:117.6px;top:2602.6px;width:5.2px;height:5.2px;background:#fff;"></div>
<div class="t" style="top:2591.54px;font-size:19.4px;line-height:27.16px;color:#fff;left:135.6px;">语音播报</div>
<div class="b" style="left:117.6px;top:2664.6px;width:5.2px;height:5.2px;background:#fff;"></div>
<div class="t" style="top:2651.54px;font-size:19.4px;line-height:27.16px;color:#fff;left:135.6px;">报警分析</div>
<div class="b" style="left:117.6px;top:2726.6px;width:5.2px;height:5.2px;background:#fff;"></div>
<div class="t" style="top:2715.54px;font-size:19.4px;line-height:27.16px;color:#fff;left:135.6px;">短信日志</div>
<svg class="b" style="left:92.6px;top:2778.6px;width:25.2px;height:25.2px;" viewBox="0 0 24 24"><path d="M14 4H5a2 2 0 0 0-2 2v13a2 2 0 0 0 2 2h13a2 2 0 0 0 2-2v-8" fill="none" stroke="#fff" stroke-width="2.2"/><path d="M9 15l1-4 9-9 3 3-9 9z" fill="#fff"/></svg>
<div class="t" style="top:2775.54px;font-size:19.4px;line-height:27.16px;color:#fff;left:135.6px;">用户报告</div>
<svg class="b" style="left:292.4px;top:2782px;width:16px;height:16px;" viewBox="0 0 24 24"><path d="M2 8l10 10 10-10" fill="none" stroke="#f2fafa" stroke-width="3.600"/></svg>
<svg class="b" style="left:92.6px;top:2840.6px;width:25.2px;height:25.2px;" viewBox="0 0 24 24"><rect x="2" y="3" width="20" height="14" fill="#fff"/><rect x="8" y="19" width="8" height="3" fill="#fff"/></svg>
<div class="t" style="top:2839.54px;font-size:19.4px;line-height:27.16px;color:#fff;left:135.6px;">系统运行</div>
<svg class="b" style="left:292.4px;top:2844px;width:16px;height:16px;" viewBox="0 0 24 24"><path d="M2 8l10 10 10-10" fill="none" stroke="#f2fafa" stroke-width="3.600"/></svg>
<svg class="b" style="left:357.6px;top:1460.4px;width:24px;height:24px;" viewBox="0 0 24 24"><path d="M3 5h18M3 12h18M3 19h18" stroke="#555" stroke-width="3"/></svg>
<div class="t" style="top:1447.56px;font-size:35.6px;line-height:49.84px;color:#25acaa;left:408.8px;-webkit-text-stroke:0;">EMS企业微电网能效管理系统</div>
<svg class="b" style="left:1867.14px;top:1453.2px;width:33.6px;height:33.6px;" viewBox="0 0 24 24"><circle cx="12" cy="12" r="9.5" fill="none" stroke="#4a4f57" stroke-width="2.300"/><circle cx="12" cy="12" r="5.5" fill="none" stroke="#4a4f57" stroke-width="1.4"/><path d="M5 5l3.500 3.500M19 5l-3.500 3.500M5 19l3.500-3.500M19 19l-3.500-3.500" stroke="#4a4f57" stroke-width="1.4"/></svg>
<svg class="b" style="left:1923.92px;top:1456px;width:28px;height:28px;" viewBox="0 0 24 24"><circle cx="10" cy="10" r="6.500" fill="none" stroke="#4a4f57" stroke-width="3"/><path d="M15 15l6.500 6.500" stroke="#4a4f57" stroke-width="3.600"/></svg>
<svg class="b" style="left:1973.48px;top:1454px;width:32px;height:32px;" viewBox="0 0 24 24"><path d="M3 9h4l6-5v16l-6-5H3z" fill="none" stroke="#4a4f57" stroke-width="2.400" stroke-linejoin="round"/><path d="M16 8c2 2 2 6 0 8M19 5c3.500 4 3.500 10 0 14" stroke="#4a4f57" stroke-width="2.200" fill="none"/><path d="M3.500 21.500 21 2.500" stroke="#4a4f57" stroke-width="2.600"/></svg>
<svg class="b" style="left:2026.64px;top:1455.2px;width:29.6px;height:29.6px;" viewBox="0 0 24 24"><path d="M20.500 12a8.500 8.500 0 0 1-15.400 4.900M3.500 12a8.500 8.500 0 0 1 15.400-4.900" fill="none" stroke="#4a4f57" stroke-width="3"/><path d="M19 2.500V8h-5.500M5 21.500V16h5.500" fill="none" stroke="#4a4f57" stroke-width="2.600"/></svg>
<svg class="b" style="left:2078.19px;top:1456.4px;width:27.2px;height:27.2px;" viewBox="0 0 24 24"><path d="M2 8.500V2h6.500M15.500 2H22v6.500M22 15.500V22h-6.500M8.500 22H2v-6.500" fill="none" stroke="#4a4f57" stroke-width="3.400"/><path d="M3 3l6.500 6.500M21 3l-6.500 6.500M21 21l-6.500-6.500M3 21l6.500-6.500" stroke="#4a4f57" stroke-width="3"/></svg>
<svg class="b" style="left:2124.51px;top:1456px;width:28px;height:28px;" viewBox="0 0 24 24"><rect x="2" y="1.500" width="20" height="21" rx="2.500" fill="#4a4f57"/><path d="M5 17l3.500-9 3.500 9M6.500 14h4" stroke="#f6f6f6" stroke-width="1.500" fill="none"/><path d="M14 8h6M17 6v2M15 16c2-1.500 4-4 4.500-8M15 10c1 3 3 5 5 6" stroke="#f6f6f6" stroke-width="1.300" fill="none"/></svg>
<svg class="b" style="left:2170.43px;top:1455.2px;width:29.6px;height:29.6px;" viewBox="0 0 24 24"><path d="M8 3l-6 3.500 2.500 5L7 10.500V21h10V10.500l2.500 1 2.500-5L16 3c-1 2-7 2-8 0z" fill="#4a4f57"/></svg>
<div class="b" style="left:2211.82px;top:1455.6px;width:63.6px;height:31.2px;background:#22c55e;border-radius:2.8px;"></div>
<div class="t" style="top:1459.48px;font-size:15.6px;line-height:21.84px;color:#fff;left:2243.62px;transform:translateX(-50%);">普通</div>
<div class="b" style="left:2257.42px;top:1439.6px;width:33.2px;height:22.8px;background:#22c55e;border-radius:11.4px;"></div>
<div class="t en" style="top:1440.48px;font-size:14.4px;line-height:20.16px;color:rgba(255,255,255,.78);left:2274.02px;transform:translateX(-50%);">47</div>
<div class="b" style="left:2300.43px;top:1455.6px;width:63.6px;height:31.2px;background:#fdb813;border-radius:2.8px;"></div>
<div class="t" style="top:1459.48px;font-size:15.6px;line-height:21.84px;color:#fff;left:2332.23px;transform:translateX(-50%);">严重</div>
<div class="b" style="left:2346.03px;top:1439.6px;width:33.2px;height:22.8px;background:#fdb813;border-radius:11.4px;"></div>
<div class="t en" style="top:1440.48px;font-size:14.4px;line-height:20.16px;color:rgba(255,255,255,.78);left:2362.63px;transform:translateX(-50%);">33</div>
<div class="b" style="left:2387.44px;top:1455.6px;width:63.6px;height:31.2px;background:#f5474b;border-radius:2.8px;"></div>
<div class="t" style="top:1459.48px;font-size:15.6px;line-height:21.84px;color:#fff;left:2419.24px;transform:translateX(-50%);">事故</div>
<div class="b" style="left:2433.04px;top:1439.6px;width:33.2px;height:22.8px;background:#f5474b;border-radius:11.4px;"></div>
<div class="t en" style="top:1440.48px;font-size:14.4px;line-height:20.16px;color:rgba(255,255,255,.78);left:2449.64px;transform:translateX(-50%);">33</div>
<svg class="b" style="left:2459.24px;top:1456px;width:28.8px;height:28.8px;" viewBox="0 0 24 24"><circle cx="12" cy="7.500" r="4.500" fill="#4a4f57"/><path d="M2.500 21c0-5 4-7.500 9.500-7.500s9.500 2.500 9.500 7.500z" fill="#4a4f57"/></svg>
<div class="b" style="left:336px;top:1504px;width:2190px;height:1.6px;background:#e9e9e9;"></div>
<div class="b" style="left:360px;top:1510.4px;width:102.4px;height:40px;background:#ededed;border-radius:2.4px;"></div>
<div class="t" style="top:1523.52px;font-size:16px;line-height:22.4px;color:#333;left:372px;">管理驾驶舱</div>
<div class="b" style="left:469.2px;top:1510.4px;width:180px;height:40px;background:#ededed;border-radius:2.4px;"></div>
<div class="t" style="top:1523.52px;font-size:16px;line-height:22.4px;color:#333;left:481.2px;">光伏电站运行监视</div>
<div class="t en" style="top:1519.52px;font-size:16px;line-height:22.4px;color:#888;left:630.8px;transform:translateX(-50%);">×</div>
<div class="b" style="left:657.2px;top:1510.4px;width:146.4px;height:40px;background:#ededed;border-radius:2.4px;"></div>
<div class="t" style="top:1523.52px;font-size:16px;line-height:22.4px;color:#333;left:669.2px;">电站发电统计</div>
<div class="t en" style="top:1519.52px;font-size:16px;line-height:22.4px;color:#888;left:785.2px;transform:translateX(-50%);">×</div>
<div class="b" style="left:811.6px;top:1510.4px;width:147.6px;height:40px;background:#ededed;border-radius:2.4px;"></div>
<div class="t" style="top:1523.52px;font-size:16px;line-height:22.4px;color:#333;left:823.6px;">光伏综合看板</div>
<div class="t en" style="top:1519.52px;font-size:16px;line-height:22.4px;color:#888;left:940.8px;transform:translateX(-50%);">×</div>
<div class="b" style="left:966.4px;top:1510.4px;width:164px;height:40px;background:#ededed;border-radius:2.4px;"></div>
<div class="t" style="top:1523.52px;font-size:16px;line-height:22.4px;color:#333;left:978.4px;">逆变器运行监视</div>
<div class="t en" style="top:1519.52px;font-size:16px;line-height:22.4px;color:#888;left:1112px;transform:translateX(-50%);">×</div>
<div class="b" style="left:1138.4px;top:1510.4px;width:163.2px;height:40px;background:#ededed;border-radius:2.4px;"></div>
<div class="t" style="top:1523.52px;font-size:16px;line-height:22.4px;color:#333;left:1150.4px;">逆变器发电统计</div>
<div class="t en" style="top:1519.52px;font-size:16px;line-height:22.4px;color:#888;left:1283.2px;transform:translateX(-50%);">×</div>
<div class="b" style="left:1309.2px;top:1510.4px;width:164.4px;height:40px;background:#ededed;border-radius:2.4px;"></div>
<div class="t" style="top:1523.52px;font-size:16px;line-height:22.4px;color:#333;left:1321.2px;">光伏电站配电图</div>
<div class="t en" style="top:1519.52px;font-size:16px;line-height:22.4px;color:#888;left:1455.2px;transform:translateX(-50%);">×</div>
<div class="b" style="left:1480.8px;top:1510.4px;width:160.4px;height:40px;background:#ededed;border-radius:2.4px;"></div>
<div class="t" style="top:1523.52px;font-size:16px;line-height:22.4px;color:#333;left:1492.8px;">逆变器曲线分析</div>
<div class="t en" style="top:1519.52px;font-size:16px;line-height:22.4px;color:#888;left:1622.8px;transform:translateX(-50%);">×</div>
<div class="b" style="left:1650.4px;top:1510.4px;width:115.2px;height:40px;background:#ededed;border-radius:2.4px;"></div>
<div class="t" style="top:1523.52px;font-size:16px;line-height:22.4px;color:#333;left:1662.4px;">遥信事件</div>
<div class="t en" style="top:1519.52px;font-size:16px;line-height:22.4px;color:#888;left:1747.2px;transform:translateX(-50%);">×</div>
<div class="b" style="left:1773.2px;top:1510.4px;width:110.8px;height:40px;background:#ededed;border-radius:2.4px;"></div>
<div class="t" style="top:1523.52px;font-size:16px;line-height:22.4px;color:#333;left:1785.2px;">遥测事件</div>
<div class="t en" style="top:1519.52px;font-size:16px;line-height:22.4px;color:#888;left:1865.6px;transform:translateX(-50%);">×</div>
<div class="b" style="left:1892.8px;top:1510.4px;width:115.2px;height:40px;background:#ededed;border-radius:2.4px;"></div>
<div class="t" style="top:1523.52px;font-size:16px;line-height:22.4px;color:#333;left:1904.8px;">报警分类</div>
<div class="t en" style="top:1519.52px;font-size:16px;line-height:22.4px;color:#888;left:1989.6px;transform:translateX(-50%);">×</div>
<div class="b" style="left:2016px;top:1510.4px;width:134.4px;height:40px;background:#00a9a5;border-radius:2.4px;"></div>
<div class="b" style="left:2028.4px;top:1525px;width:10.8px;height:10.8px;background:#fff;border-radius:50%;"></div>
<div class="t" style="top:1523.52px;font-size:16px;line-height:22.4px;color:#fff;left:2045.6px;">报警分析</div>
<div class="t en" style="top:1519.52px;font-size:16px;line-height:22.4px;color:#fff;left:2130.4px;transform:translateX(-50%);">×</div>
<div class="b" style="left:2158.4px;top:1510.4px;width:113.6px;height:40px;background:#ededed;border-radius:2.4px;"></div>
<div class="t" style="top:1523.52px;font-size:16px;line-height:22.4px;color:#333;left:2170.4px;">短信日志</div>
<div class="t en" style="top:1519.52px;font-size:16px;line-height:22.4px;color:#888;left:2253.6px;transform:translateX(-50%);">×</div>
<div class="b" style="left:336px;top:1560px;width:2190px;height:96px;background:linear-gradient(#09a6a6 0%,#08999f 35%,#056b8b 100%);"></div>
<div class="b" style="left:378px;top:1574px;width:68px;height:68px;border:2.48px solid rgba(255,255,255,.92);box-sizing:border-box;border-radius:50%;"></div>
<div class="t" style="top:1584.48px;font-size:33.6px;line-height:47.04px;color:rgba(255,255,255,.88);left:412px;transform:translateX(-50%);">日</div>
<div class="t" style="top:1572.56px;font-size:18.4px;line-height:25.76px;color:#eaf6f6;left:460px;">今日报警数</div>
<div class="t en" style="top:1600.52px;font-size:34px;line-height:47.6px;color:#fff;font-weight:700;left:460px;-webkit-text-stroke:0;">6</div>
<div class="t" style="top:1572.56px;font-size:18.4px;line-height:25.76px;color:#eaf6f6;left:660.8px;">昨日报警数</div>
<div class="t en" style="top:1600.52px;font-size:34px;line-height:47.6px;color:#fff;font-weight:700;left:660.8px;-webkit-text-stroke:0;">0</div>
<div class="t" style="top:1572.56px;font-size:18.4px;line-height:25.76px;color:#eaf6f6;left:859.2px;">环比</div>
<div class="t en" style="top:1600.52px;font-size:34px;line-height:47.6px;color:#9df5a0;font-weight:700;left:859.2px;-webkit-text-stroke:0;">0%</div>
<div class="b" style="left:1106.4px;top:1574px;width:68px;height:68px;border:2.48px solid rgba(255,255,255,.92);box-sizing:border-box;border-radius:50%;"></div>
<div class="t" style="top:1584.48px;font-size:33.6px;line-height:47.04px;color:rgba(255,255,255,.88);left:1140.4px;transform:translateX(-50%);">月</div>
<div class="t" style="top:1572.56px;font-size:18.4px;line-height:25.76px;color:#eaf6f6;left:1190.8px;">本月报警数</div>
<div class="t en" style="top:1600.52px;font-size:34px;line-height:47.6px;color:#fff;font-weight:700;left:1190.8px;-webkit-text-stroke:0;">296</div>
<div class="t" style="top:1572.56px;font-size:18.4px;line-height:25.76px;color:#eaf6f6;left:1391.2px;">上月报警数</div>
<div class="t en" style="top:1600.52px;font-size:34px;line-height:47.6px;color:#fff;font-weight:700;left:1391.2px;-webkit-text-stroke:0;">711</div>
<div class="t" style="top:1572.56px;font-size:18.4px;line-height:25.76px;color:#eaf6f6;left:1590px;">环比</div>
<div class="t en" style="top:1600.52px;font-size:34px;line-height:47.6px;color:#9df5a0;font-weight:700;left:1590px;-webkit-text-stroke:0;">-14.2%</div>
<div class="b" style="left:1838.8px;top:1574px;width:68px;height:68px;border:2.48px solid rgba(255,255,255,.92);box-sizing:border-box;border-radius:50%;"></div>
<div class="t" style="top:1584.48px;font-size:33.6px;line-height:47.04px;color:rgba(255,255,255,.88);left:1872.8px;transform:translateX(-50%);">年</div>
<div class="t" style="top:1572.56px;font-size:18.4px;line-height:25.76px;color:#eaf6f6;left:1923.2px;">今年报警数</div>
<div class="t en" style="top:1600.52px;font-size:34px;line-height:47.6px;color:#fff;font-weight:700;left:1923.2px;-webkit-text-stroke:0;">16879</div>
<div class="t" style="top:1572.56px;font-size:18.4px;line-height:25.76px;color:#eaf6f6;left:2121.6px;">去年报警数</div>
<div class="t en" style="top:1600.52px;font-size:34px;line-height:47.6px;color:#fff;font-weight:700;left:2121.6px;-webkit-text-stroke:0;">1630</div>
<div class="t" style="top:1572.56px;font-size:18.4px;line-height:25.76px;color:#eaf6f6;left:2320px;">环比</div>
<div class="t en" style="top:1600.52px;font-size:34px;line-height:47.6px;color:#f3a453;font-weight:700;left:2320px;-webkit-text-stroke:0;">+945.14%</div>
<div class="b" style="left:902.4px;top:1579.6px;width:10.4px;height:10.4px;background:#22b9b0;border-radius:50%;"></div>
<div class="b" style="left:1632.8px;top:1579.6px;width:10.4px;height:10.4px;background:#22b9b0;border-radius:50%;"></div>
<div class="b" style="left:2363.2px;top:1579.6px;width:10.4px;height:10.4px;background:#22b9b0;border-radius:50%;"></div>
<div class="b" style="left:341.6px;top:1664.8px;width:1267.2px;height:1186px;background:#fff;box-shadow:0 0 3.2px rgba(0,0,0,.12);"></div>
<div class="b" style="left:344.8px;top:1666.4px;width:168.8px;height:52.8px;background:#00a9a5;"></div>
<div class="b" style="left:341.6px;top:1718.4px;width:1267.2px;height:3.6px;background:#00a9a5;"></div>
<div class="t" style="top:1680.44px;font-size:18.8px;line-height:26.32px;color:#fff;left:429.2px;transform:translateX(-50%);">站点报警排名</div>
<div class="t" style="top:1680.44px;font-size:18.8px;line-height:26.32px;color:#333;left:597.2px;transform:translateX(-50%);">站点报警分布</div>
<div class="t" style="top:1753.44px;font-size:20.8px;line-height:29.12px;color:#333;left:366.4px;">日期:</div>
<div class="b" style="left:433.2px;top:1743.2px;width:216px;height:46.8px;background:#fff;border:1.4px solid #dadde4;box-sizing:border-box;border-radius:4.8px;"></div>
<svg class="b" style="left:445.2px;top:1758px;width:18.4px;height:18.4px;" viewBox="0 0 24 24"><rect x="3" y="5" width="18" height="16" rx="1.500" fill="none" stroke="#c0c4cc" stroke-width="2"/><path d="M3 10h18M8 2v5M16 2v5" stroke="#c0c4cc" stroke-width="2"/></svg>
<div class="t en" style="top:1754.52px;font-size:20.4px;line-height:28.56px;color:#555;left:472.8px;">2023-07-01</div>
<div class="t en" style="top:1756.56px;font-size:18.4px;line-height:25.76px;color:#333;left:662.4px;transform:translateX(-50%);">-</div>
<div class="b" style="left:674px;top:1743.2px;width:220px;height:46.8px;background:#fff;border:1.4px solid #dadde4;box-sizing:border-box;border-radius:4.8px;"></div>
<svg class="b" style="left:686px;top:1758px;width:18.4px;height:18.4px;" viewBox="0 0 24 24"><rect x="3" y="5" width="18" height="16" rx="1.500" fill="none" stroke="#c0c4cc" stroke-width="2"/><path d="M3 10h18M8 2v5M16 2v5" stroke="#c0c4cc" stroke-width="2"/></svg>
<div class="t en" style="top:1754.52px;font-size:20.4px;line-height:28.56px;color:#555;left:714px;">2023-07-08</div>
<div class="b" style="left:906px;top:1743.2px;width:96px;height:47.6px;background:#00a9a5;border-radius:4.8px;"></div>
<div class="t" style="top:1752.44px;font-size:18.8px;line-height:26.32px;color:#fff;left:954px;transform:translateX(-50%);">查询</div>
<div class="b" style="left:1012.8px;top:1758.4px;width:17.6px;height:17.6px;background:#00a9a5;border-radius:50%;"></div>
<div class="t en" style="top:1757.52px;font-size:13.6px;line-height:19.04px;color:#fff;font-weight:700;left:1021.6px;transform:translateX(-50%);">?</div>
<div class="b" style="left:365.2px;top:1808px;width:1220.8px;height:965.2px;background:#fff;border:1.3px solid #e6e6e6;box-sizing:border-box;"></div>
<div class="b" style="left:365.2px;top:1808px;width:1220.8px;height:57.6px;background:#00a9a5;"></div>
<div class="t" style="top:1824.56px;font-size:19.2px;line-height:26.88px;color:#fff;font-weight:700;left:448px;">站点名称</div>
<div class="t" style="top:1824.56px;font-size:19.2px;line-height:26.88px;color:#fff;font-weight:700;left:861.2px;">报警处理率</div>
<svg class="b" style="left:969.2px;top:1826.8px;width:12px;height:20px;" viewBox="0 0 10 19"><path d="M5 8 0 0h10z" transform="translate(0 11)" fill="#e6f6f5"/><path d="M5 0l5 8H0z" fill="#e6f6f5"/></svg>
<div class="t" style="top:1824.56px;font-size:19.2px;line-height:26.88px;color:#fff;font-weight:700;left:1160px;">告警数目</div>
<svg class="b" style="left:1248px;top:1826.8px;width:12px;height:20px;" viewBox="0 0 10 19"><path d="M5 8 0 0h10z" transform="translate(0 11)" fill="#e6f6f5"/><path d="M5 0l5 8H0z" fill="#e6f6f5"/></svg>
<div class="b" style="left:365.2px;top:1925.2px;width:1220.8px;height:1.2px;background:#ececec;"></div>
<div class="t en" style="top:1884.56px;font-size:19.2px;line-height:26.88px;color:#555;left:381.6px;">1</div>
<div class="t" style="top:1884.56px;font-size:19.2px;line-height:26.88px;color:#555;left:448px;">E楼学信息</div>
<div class="b" style="left:861.2px;top:1892px;width:149.6px;height:7.2px;background:#e6eaf2;border-radius:3.6px;"></div>
<div class="b" style="left:861.2px;top:1892px;width:75.1px;height:7.2px;background:#ef8a3c;border-radius:3.6px;"></div>
<div class="t en" style="top:1884.56px;font-size:19.2px;line-height:26.88px;color:#555;left:1018.4px;">50.2%</div>
<div class="t en" style="top:1884.56px;font-size:19.2px;line-height:26.88px;color:#555;left:1215.6px;transform:translateX(-50%);">253</div>
<svg class="b" style="left:1446.4px;top:1877.2px;width:30.4px;height:30.4px;" viewBox="0 0 24 24"><path d="M2.500 10h19l-1.500 11h-16z" fill="#fff" stroke="#f0a050" stroke-width="2.200"/><path d="M8 10V7a4 4 0 0 1 8 0v3" fill="none" stroke="#f0a050" stroke-width="2.200"/><path d="M3 16.500h18" stroke="#f0a050" stroke-width="1.800"/></svg>
<div class="b" style="left:365.2px;top:1985.4px;width:1220.8px;height:1.2px;background:#ececec;"></div>
<div class="t en" style="top:1944.56px;font-size:19.2px;line-height:26.88px;color:#555;left:381.6px;">2</div>
<div class="t" style="top:1944.56px;font-size:19.2px;line-height:26.88px;color:#555;left:448px;">EC演示箱</div>
<div class="b" style="left:861.2px;top:1952.2px;width:149.6px;height:7.2px;background:#e6eaf2;border-radius:3.6px;"></div>
<div class="b" style="left:861.2px;top:1952.2px;width:48.77px;height:7.2px;background:#ef8a3c;border-radius:3.6px;"></div>
<div class="t en" style="top:1944.56px;font-size:19.2px;line-height:26.88px;color:#555;left:1018.4px;">32.6%</div>
<div class="t en" style="top:1944.56px;font-size:19.2px;line-height:26.88px;color:#555;left:1215.6px;transform:translateX(-50%);">43</div>
<svg class="b" style="left:1446.4px;top:1937.4px;width:30.4px;height:30.4px;" viewBox="0 0 24 24"><path d="M2.500 10h19l-1.500 11h-16z" fill="#fff" stroke="#f0a050" stroke-width="2.200"/><path d="M8 10V7a4 4 0 0 1 8 0v3" fill="none" stroke="#f0a050" stroke-width="2.200"/><path d="M3 16.500h18" stroke="#f0a050" stroke-width="1.800"/></svg>
<div class="t" style="top:2793.54px;font-size:17.8px;line-height:24.92px;color:#555;left:1044px;transform:translateX(-50%);">共 2 条</div>
<div class="b" style="left:1095.6px;top:2788px;width:135.2px;height:36px;background:#fff;border:1.4px solid #dadde4;box-sizing:border-box;border-radius:4.8px;"></div>
<div class="t" style="top:2793.54px;font-size:17.8px;line-height:24.92px;color:#555;left:1150px;transform:translateX(-50%);">20条/页</div>
<svg class="b" style="left:1205.6px;top:2798px;width:16px;height:16px;" viewBox="0 0 24 24"><path d="M2 8l10 10 10-10" fill="none" stroke="#c0c4cc" stroke-width="3.600"/></svg>
<div class="t en" style="top:2792.56px;font-size:18.4px;line-height:25.76px;color:#666;left:1278.8px;transform:translateX(-50%);">&lt;</div>
<div class="b" style="left:1314px;top:2788px;width:42px;height:36px;background:#00a9a5;border-radius:2.4px;"></div>
<div class="t en" style="top:2797.54px;font-size:17.8px;line-height:24.92px;color:#fff;font-weight:700;left:1335.2px;transform:translateX(-50%);">1</div>
<div class="t en" style="top:2792.56px;font-size:18.4px;line-height:25.76px;color:#666;left:1391.2px;transform:translateX(-50%);">&gt;</div>
<div class="t" style="top:2793.54px;font-size:17.8px;line-height:24.92px;color:#555;left:1451.2px;">前往</div>
<div class="b" style="left:1493.6px;top:2788px;width:61.6px;height:36px;background:#fff;border:1.4px solid #dadde4;box-sizing:border-box;border-radius:4.8px;"></div>
<div class="t en" style="top:2797.54px;font-size:17.8px;line-height:24.92px;color:#555;left:1524.4px;transform:translateX(-50%);">1</div>
<div class="t" style="top:2793.54px;font-size:17.8px;line-height:24.92px;color:#555;left:1562.4px;">页</div>
<div class="b" style="left:1622.4px;top:1664.8px;width:896.4px;height:584px;background:#fff;box-shadow:0 0 3.2px rgba(0,0,0,.12);"></div>
<div class="b" style="left:1623.2px;top:1666.4px;width:208px;height:52.8px;background:#00a9a5;"></div>
<div class="b" style="left:1622.4px;top:1718.4px;width:896.4px;height:3.6px;background:#00a9a5;"></div>
<div class="t" style="top:1680.44px;font-size:18.8px;line-height:26.32px;color:#fff;left:1727.2px;transform:translateX(-50%);">站点报警排名列表</div>
<div class="t" style="top:1680.44px;font-size:18.8px;line-height:26.32px;color:#333;left:1934.4px;transform:translateX(-50%);">站点报警排名图表</div>
<div class="t en" style="top:1680.56px;font-size:19.2px;line-height:26.88px;color:#1aa7a6;left:2500.8px;transform:translateX(-100%);">2023-07-08</div>
<div class="b" style="left:1643.2px;top:1745.2px;width:855.2px;height:480px;background:#fff;border:1.3px solid #e6e6e6;box-sizing:border-box;"></div>
<div class="b" style="left:1643.2px;top:1745.2px;width:855.2px;height:42.4px;background:#00a9a5;"></div>
<div class="t" style="top:1752.56px;font-size:19.2px;line-height:26.88px;color:#fff;font-weight:700;left:1910.8px;transform:translateX(-50%);">报警类型</div>
<div class="t" style="top:1752.56px;font-size:19.2px;line-height:26.88px;color:#fff;font-weight:700;left:2302px;transform:translateX(-50%);">告警数目</div>
<div class="b" style="left:1643.2px;top:1842.4px;width:855.2px;height:1.2px;background:#ececec;"></div>
<div class="t en" style="top:1804.56px;font-size:19.2px;line-height:26.88px;color:#555;left:1660px;">1</div>
<div class="t" style="top:1800.56px;font-size:19.2px;line-height:26.88px;color:#555;left:1910.8px;transform:translateX(-50%);">通讯状态</div>
<div class="t en" style="top:1804.56px;font-size:19.2px;line-height:26.88px;color:#555;left:2302px;transform:translateX(-50%);">6</div>
<div class="b" style="left:1643.2px;top:1897px;width:855.2px;height:1.2px;background:#ececec;"></div>
<div class="t en" style="top:1856.56px;font-size:19.2px;line-height:26.88px;color:#555;left:1660px;">2</div>
<div class="t" style="top:1856.56px;font-size:19.2px;line-height:26.88px;color:#555;left:1910.8px;transform:translateX(-50%);">工作通知</div>
<div class="t en" style="top:1856.56px;font-size:19.2px;line-height:26.88px;color:#555;left:2302px;transform:translateX(-50%);">0</div>
<div class="b" style="left:1643.2px;top:1951.6px;width:855.2px;height:1.2px;background:#ececec;"></div>
<div class="t en" style="top:1912.56px;font-size:19.2px;line-height:26.88px;color:#555;left:1660px;">3</div>
<div class="t" style="top:1912.56px;font-size:19.2px;line-height:26.88px;color:#555;left:1910.8px;transform:translateX(-50%);">现场报警</div>
<div class="t en" style="top:1912.56px;font-size:19.2px;line-height:26.88px;color:#555;left:2302px;transform:translateX(-50%);">0</div>
<div class="b" style="left:1643.2px;top:2006.2px;width:855.2px;height:1.2px;background:#ececec;"></div>
<div class="t en" style="top:1968.56px;font-size:19.2px;line-height:26.88px;color:#555;left:1660px;">4</div>
<div class="t" style="top:1964.56px;font-size:19.2px;line-height:26.88px;color:#555;left:1910.8px;transform:translateX(-50%);">设备故障</div>
<div class="t en" style="top:1968.56px;font-size:19.2px;line-height:26.88px;color:#555;left:2302px;transform:translateX(-50%);">0</div>
<div class="b" style="left:1622.8px;top:2263.6px;width:896px;height:588px;background:#fff;box-shadow:0 0 3.2px rgba(0,0,0,.12);"></div>
<div class="b" style="left:1622.8px;top:2263.6px;width:896px;height:66px;background:#00a9a5;"></div>
<div class="t" style="top:2283.56px;font-size:19.6px;line-height:27.44px;color:#fff;left:1650.4px;">平台月报警统计</div>
<div class="b" style="left:2272px;top:2272.4px;width:222.4px;height:49.2px;border:2px solid rgba(255,255,255,.55);box-sizing:border-box;border-radius:4.8px;"></div>
<svg class="b" style="left:2288.4px;top:2287.6px;width:18.4px;height:18.4px;" viewBox="0 0 24 24"><rect x="3" y="5" width="18" height="16" rx="1.500" fill="none" stroke="#dff3f2" stroke-width="2"/><path d="M3 10h18M8 2v5M16 2v5" stroke="#dff3f2" stroke-width="2"/></svg>
<div class="t en" style="top:2282.52px;font-size:20.4px;line-height:28.56px;color:#fff;left:2315.2px;">2023-07</div>
<svg class="b" style="left:0;top:0;width:2584px;height:2896px" viewBox="0 0 646 724"><path d="M426.40 695.70h-1.2" stroke="#4da9dc" stroke-width=".35"/><path d="M426.40 681.99H609.30" stroke="#dbe9f8" stroke-width=".45"/><path d="M426.40 681.99h-1.2" stroke="#4da9dc" stroke-width=".35"/><path d="M426.40 668.27H609.30" stroke="#dbe9f8" stroke-width=".45"/><path d="M426.40 668.27h-1.2" stroke="#4da9dc" stroke-width=".35"/><path d="M426.40 654.56H609.30" stroke="#dbe9f8" stroke-width=".45"/><path d="M426.40 654.56h-1.2" stroke="#4da9dc" stroke-width=".35"/><path d="M426.40 640.84H609.30" stroke="#dbe9f8" stroke-width=".45"/><path d="M426.40 640.84h-1.2" stroke="#4da9dc" stroke-width=".35"/><path d="M426.40 627.13H609.30" stroke="#dbe9f8" stroke-width=".45"/><path d="M426.40 627.13h-1.2" stroke="#4da9dc" stroke-width=".35"/><path d="M426.40 613.41H609.30" stroke="#dbe9f8" stroke-width=".45"/><path d="M426.40 613.41h-1.2" stroke="#4da9dc" stroke-width=".35"/><path d="M426.40 599.70H609.30" stroke="#dbe9f8" stroke-width=".45"/><path d="M426.40 599.70h-1.2" stroke="#4da9dc" stroke-width=".35"/><path d="M426.40 599.70V695.70" stroke="#5aaee0" stroke-width=".6"/><path d="M426.40 695.70H609.30" stroke="#5aaee0" stroke-width=".75"/><rect x="435.18" y="689.53" width="5.3" height="6.17" fill="#2ec7c9"/><path d="M449.26 695.70v1.2" stroke="#4da9dc" stroke-width=".35"/><rect x="458.04" y="689.53" width="5.3" height="6.17" fill="#2ec7c9"/><path d="M472.12 695.70v1.2" stroke="#4da9dc" stroke-width=".35"/><rect x="480.91" y="682.67" width="5.3" height="13.03" fill="#2ec7c9"/><path d="M494.99 695.70v1.2" stroke="#4da9dc" stroke-width=".35"/><rect x="503.77" y="660.04" width="5.3" height="35.66" fill="#2ec7c9"/><path d="M517.85 695.70v1.2" stroke="#4da9dc" stroke-width=".35"/><rect x="526.63" y="612.04" width="5.3" height="83.66" fill="#2ec7c9"/><path d="M540.71 695.70v1.2" stroke="#4da9dc" stroke-width=".35"/><rect x="549.49" y="647.70" width="5.3" height="48.00" fill="#2ec7c9"/><path d="M563.57 695.70v1.2" stroke="#4da9dc" stroke-width=".35"/><rect x="572.36" y="689.53" width="5.3" height="6.17" fill="#2ec7c9"/><path d="M586.44 695.70v1.2" stroke="#4da9dc" stroke-width=".35"/><rect x="595.22" y="691.59" width="5.3" height="4.11" fill="#2ec7c9"/><path d="M609.30 695.70v1.2" stroke="#4da9dc" stroke-width=".35"/><path d="M529.28 611.44c-1.2-1.800-3.300-3.100-3.300-5.200a3.300 3.300 0 0 1 6.600 0c0 2.100-2.100 3.400-3.300 5.200z" fill="#e5874a"/><path d="M597.87 690.99c-1.2-1.800-3.300-3.100-3.300-5.200a3.300 3.300 0 0 1 6.600 0c0 2.100-2.100 3.400-3.300 5.200z" fill="#e5874a"/><path d="M601.50 589.6v4.6h4.6M602.80 589.8h3.400v3.400" fill="none" stroke="#5a5a5a" stroke-width=".55"/><path d="M610.30 589.6v4.6h4.6M611.60 589.8h3.400v3.400" fill="none" stroke="#5a5a5a" stroke-width=".55"/><path d="M621.3 589.2v4M619.6 591.600l1.700 1.700 1.700-1.700M619 594.600h4.600" fill="none" stroke="#5a5a5a" stroke-width=".55"/></svg>
<div class="t en" style="top:2772.56px;font-size:19.2px;line-height:26.88px;color:#2f8ed2;left:1696.8px;transform:translateX(-100%);">0</div>
<div class="t en" style="top:2716.56px;font-size:19.2px;line-height:26.88px;color:#2f8ed2;left:1696.8px;transform:translateX(-100%);">20</div>
<div class="t en" style="top:2660.56px;font-size:19.2px;line-height:26.88px;color:#2f8ed2;left:1696.8px;transform:translateX(-100%);">40</div>
<div class="t en" style="top:2608.56px;font-size:19.2px;line-height:26.88px;color:#2f8ed2;left:1696.8px;transform:translateX(-100%);">60</div>
<div class="t en" style="top:2552.56px;font-size:19.2px;line-height:26.88px;color:#2f8ed2;left:1696.8px;transform:translateX(-100%);">80</div>
<div class="t en" style="top:2496.56px;font-size:19.2px;line-height:26.88px;color:#2f8ed2;left:1696.8px;transform:translateX(-100%);">100</div>
<div class="t en" style="top:2440.56px;font-size:19.2px;line-height:26.88px;color:#2f8ed2;left:1696.8px;transform:translateX(-100%);">120</div>
<div class="t en" style="top:2388.56px;font-size:19.2px;line-height:26.88px;color:#2f8ed2;left:1696.8px;transform:translateX(-100%);">140</div>
<div class="t en" style="top:2788.56px;font-size:19.2px;line-height:26.88px;color:#2f8ed2;left:1751.32px;transform:translateX(-50%);">01</div>
<div class="t en" style="top:2788.56px;font-size:19.2px;line-height:26.88px;color:#2f8ed2;left:1842.77px;transform:translateX(-50%);">02</div>
<div class="t en" style="top:2788.56px;font-size:19.2px;line-height:26.88px;color:#2f8ed2;left:1934.22px;transform:translateX(-50%);">03</div>
<div class="t en" style="top:2788.56px;font-size:19.2px;line-height:26.88px;color:#2f8ed2;left:2025.67px;transform:translateX(-50%);">04</div>
<div class="t en" style="top:2788.56px;font-size:19.2px;line-height:26.88px;color:#2f8ed2;left:2117.12px;transform:translateX(-50%);">05</div>
<div class="t en" style="top:2788.56px;font-size:19.2px;line-height:26.88px;color:#2f8ed2;left:2208.57px;transform:translateX(-50%);">06</div>
<div class="t en" style="top:2788.56px;font-size:19.2px;line-height:26.88px;color:#2f8ed2;left:2300.02px;transform:translateX(-50%);">07</div>
<div class="t en" style="top:2788.56px;font-size:19.2px;line-height:26.88px;color:#2f8ed2;left:2391.47px;transform:translateX(-50%);">08</div>
<div class="t en" style="top:2415.56px;font-size:11.6px;line-height:16.24px;color:rgba(255,255,255,.7);left:2117.12px;transform:translateX(-50%);-webkit-text-stroke:0;">122</div>
<div class="t en" style="top:2735.56px;font-size:11.6px;line-height:16.24px;color:rgba(255,255,255,.7);left:2391.47px;transform:translateX(-50%);-webkit-text-stroke:0;">6</div>
<div class="b" style="left:336px;top:2849.6px;width:2190px;height:3.6px;background:#dedede;"></div>
<div class="b" style="left:336px;top:2853.2px;width:2190px;height:4px;background:#fff;"></div>
<svg class="b" style="left:2477.6px;top:2599.2px;width:21.6px;height:18.4px;" viewBox="0 0 24 24"><path d="M3 7h18M17 3l4 4-4 4M21 17H3M7 13l-4 4 4 4" fill="none" stroke="#333" stroke-width="3.200"/></svg>
</div></div>
</div></div>
</body>
</html>
